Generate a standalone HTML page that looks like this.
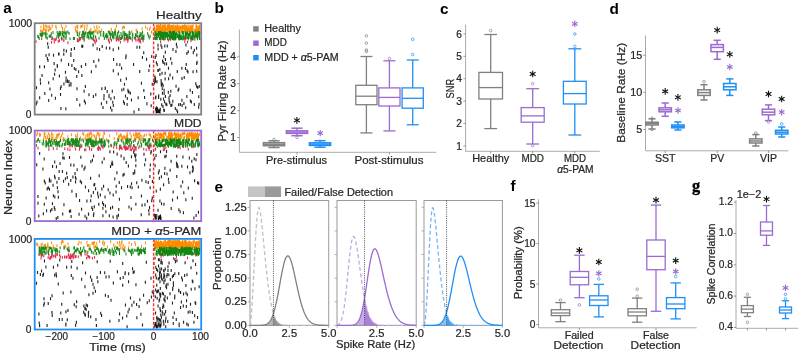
<!DOCTYPE html>
<html><head><meta charset="utf-8"><style>
html,body{margin:0;padding:0;background:#fff;width:800px;height:355px;overflow:hidden;}
svg{display:block;will-change:transform;}
text{font-family:"Liberation Sans", sans-serif;stroke:currentColor;}
</style></head><body>
<svg width="800" height="355" viewBox="0 0 800 355" font-family='"Liberation Sans", sans-serif'><text x="3.3" y="12.8" font-size="15.3" fill="#000" color="#000" stroke-width="0.0" font-weight="bold" text-anchor="start">a</text>
<text x="214.6" y="13.4" font-size="15.3" fill="#000" color="#000" stroke-width="0.0" font-weight="bold" text-anchor="start">b</text>
<text x="440.1" y="14.2" font-size="15.3" fill="#000" color="#000" stroke-width="0.0" font-weight="bold" text-anchor="start">c</text>
<text x="609.6" y="13.8" font-size="15.3" fill="#000" color="#000" stroke-width="0.0" font-weight="bold" text-anchor="start">d</text>
<text x="214.4" y="191.6" font-size="15.3" fill="#000" color="#000" stroke-width="0.0" font-weight="bold" text-anchor="start">e</text>
<text x="510.6" y="190.6" font-size="15.3" fill="#000" color="#000" stroke-width="0.0" font-weight="bold" text-anchor="start">f</text>
<text x="692" y="191" font-size="16.3" fill="#000" color="#000" stroke-width="0.35" font-weight="bold" text-anchor="start" font-family="Liberation Serif" style="font-family:'Liberation Serif', serif">g</text>
<path d="M87.12 24.25v3M98.98 29.78v3M95.29 29.26v3M77.75 24.83v3M40.48 29.42v3M55.77 25.09v3M60.83 31.1v3M47.96 25.48v3M96.18 30.3v3M82.78 24.3v3M43.79 25.61v3M49.68 27.66v3M42.01 29.52v3M56.32 26.41v3M149.52 27.96v3M42.81 30.02v3M52.31 24.53v3M114.53 29.35v3M42.98 30.47v3M111.42 28.8v3M131.82 29.89v3M84.48 27.77v3M76.4 29.97v3M77.38 30.33v3M65.94 25.03v3M96.67 25.18v3M64.34 27.72v3M99.76 30.3v3M136.73 29.61v3M136.17 28.42v3M94.8 29.61v3M80.71 25.16v3M81.56 25.11v3M75.58 28.5v3M46.5 24.95v3M116.48 24.54v3M48.63 28.94v3M115.32 27.87v3M86.8 27.53v3M41.84 29.61v3M42.96 30.37v3M43.91 24.5v3M99.13 25.46v3M45.77 24.4v3M84.82 24.79v3M43.54 27.31v3M43.42 24.3v3M151.8 30.45v3M61.42 24.55v3M122.3 26.41v3M79.87 31.01v3M45.59 28.4v3M145.57 25.52v3M124.38 26.07v3M111.22 27.71v3M76.74 29.83v3M90.86 27.71v3M94.23 25.86v3M44.26 27.81v3M62.36 30.32v3M42.15 30.69v3M151.39 30.65v3M91.01 30.44v3M40.93 25.54v3M147.35 27.28v3M97.03 27.06v3M62.51 26.89v3M75.29 26.34v3M46.81 28.87v3M142.07 27.14v3M123.44 25.61v3M77.57 26.25v3M49.22 24.97v3M89.95 29.62v3M45.81 30.77v3M101.57 28.67v3M50.84 26.7v3M150.3 25.9v3M76.79 25.07v3M97.12 27.42v3" stroke="#ff9215" stroke-width="1.05" fill="none"/>
<path d="M186.46 27.26v3M170.25 29.9v3M168.56 25.41v3M160.76 25.76v3M162.68 27.29v3M191.78 26.11v3M185.22 24.33v3M172.91 25.25v3M177.87 25.12v3M169.31 30v3M172.29 28.38v3M173.79 29.74v3M184.87 25.16v3M165.78 29.04v3M187 24.82v3M170.31 27.44v3M196.14 28.11v3M156.37 26.37v3M197.18 29.6v3M166.34 27.6v3M182.3 27.75v3M197.06 29.66v3M162.51 24.76v3M189.27 30.36v3M172.79 28.07v3M163.04 26.58v3M197.02 29.13v3M167.24 25.77v3M194.93 30.34v3M168.43 27.74v3M158.27 26.37v3M173.38 28.92v3M161.33 26.89v3M192.57 25.21v3M170.53 28.78v3M156.39 24.4v3M171.77 29.26v3M198.67 25.7v3M185.99 28.13v3M196.54 30.3v3M167.33 27.79v3M179.35 28.28v3M185.24 26.07v3M160.56 24.11v3M177.33 24.31v3M173.03 25.04v3M160.96 27.98v3M172.37 26.82v3M169.37 27.33v3M179.28 29.74v3M157.06 24.93v3M181.6 25.53v3M187.26 28.21v3M167.36 24.24v3M161 24.12v3M187 26.34v3M173.97 24.77v3M177.45 26.35v3M188.73 25.51v3M191.47 27.78v3M165.19 27.81v3M186.02 25.39v3M185.25 28.03v3M169.76 27.09v3M179.87 24.95v3M182.96 30v3M176.71 25.63v3M172.17 25.04v3M173.87 24.7v3M188.41 28.12v3M191.3 29.59v3M165.11 29.03v3M164.92 26.63v3M175.39 25.76v3M157.9 24.17v3M167.5 28.16v3M169.87 27.64v3M157.93 26.31v3M182.18 28.17v3M160.48 26.9v3M176.55 30v3M158.94 28.72v3M195.97 25.67v3M172.07 29.79v3M199.69 24.38v3M168.61 27.45v3M199.72 26.66v3M163.47 25.6v3M160.99 24.47v3M160.45 29.01v3M177.6 24.18v3M186.47 27.57v3M198.24 30.03v3M168.17 25v3M164.68 25.36v3M158.79 27.93v3M192.66 27.29v3M161.67 28.14v3M195.51 29.22v3M167.34 25.2v3M157.88 26.05v3M188.86 25.99v3M167.2 24.41v3M171.85 29.7v3M194.76 29.03v3M163.06 28.61v3M188.97 24.14v3M191.43 29.42v3M196.05 28.79v3M179.44 27.03v3M156.66 28.77v3M174.96 26.95v3M183.79 25.52v3M191.67 24.76v3M184.62 25.56v3M184.68 24.34v3M172.92 26.21v3M172.38 28.82v3M197.9 28.48v3M179.5 29.43v3M169.58 28.58v3M173.89 25.78v3M165.53 27.59v3M174.42 26.85v3M158.13 29.07v3M192.47 27.4v3M173.22 25.77v3M178.3 28.14v3M164.65 30.18v3M170.82 25.47v3M178.53 29.64v3M193.1 24.2v3M158.3 25.74v3M163.64 25.59v3M194.2 28.79v3M190.93 30.05v3M189.22 28.8v3M198.55 26.16v3M157.74 29.65v3M196.72 26.17v3M175.75 25.61v3M190.11 29.82v3M190.26 28.07v3M187.31 28.46v3M189.27 28.29v3M179.55 30.27v3M170.45 27.06v3M177.4 29.39v3M192.67 28.49v3M178.49 29.5v3M189.23 26.85v3M180.93 28.67v3M161.22 27.69v3M154.45 26.04v3M199.83 25.44v3M160.77 28.02v3M165.11 24.59v3M181.7 29.84v3M168.42 25.01v3M158.96 24.27v3M196.59 24.77v3M186.85 29.95v3M182.11 26.27v3M169.57 24.99v3M168.61 24.28v3M164.92 24.36v3M172.19 28.46v3M182.22 28.09v3M176.52 28.49v3M156.97 28.74v3M196.44 24.51v3M187.53 27.82v3M160.87 26.39v3M189.77 29.25v3M168.73 29.26v3M161.69 29.72v3M169.41 24.52v3M172.8 29.57v3M171.67 29.86v3M163.84 30.05v3M159.37 24.77v3M177.1 25.4v3M164.9 24.81v3M158.4 24.32v3M163.32 29.44v3M174.75 29.22v3M156.04 28.1v3M155.78 29.3v3M191.42 28.08v3M156.25 25.91v3M159.05 24.73v3M157.68 24.72v3M169.86 28.87v3M178.39 25.39v3M196.54 26.11v3M159.95 26.77v3M196.19 24.23v3M197.41 25.72v3M165.54 25.88v3M189.8 28.61v3M196.06 26.42v3M160.45 26.12v3M154.8 30.17v3M168.23 27.27v3M161.3 29.46v3M172.78 28v3M165.45 24.3v3M172.26 26.7v3M182.66 26.85v3M184.71 28.97v3M187.04 26.28v3M199.44 28.54v3M159.5 27.49v3M198.73 25.46v3M197.78 29.53v3M182.69 24.67v3M188.51 29.26v3M184.7 25.17v3M169.15 24.11v3M187.19 25.37v3M163.48 28.9v3M162.05 30.26v3M162.98 24.13v3M187.28 27.19v3M177.53 27.2v3M173.79 29.12v3M190.43 25.26v3M191.75 27.22v3M196.1 26.29v3M184.96 29.34v3M192.15 25.74v3M159.65 30.05v3M171.6 25.89v3M184.71 25.45v3M174.33 28.51v3M182.67 27.24v3M164.12 24.79v3M156.14 28.11v3M196.08 24.61v3M191.74 29.06v3M171.35 28.49v3M157.95 29.06v3M157.29 28.06v3M185.71 26.34v3M184.18 26.63v3M183.36 26.59v3M167.32 29.71v3M186.97 24.64v3M190.19 29.7v3M173.94 24.26v3M158.54 25.4v3M197.35 25.76v3M161.54 29.78v3M161.81 27.26v3M176.27 26.49v3M172.18 29.67v3M171.31 25.57v3M161.05 27v3M172.12 27.45v3M161.39 28.85v3M198.49 28.84v3M196.95 28.17v3M156.38 26.3v3M168.74 26.16v3M183.42 25.08v3M154.53 29.41v3M167.25 28.27v3M182.72 28.77v3M163.34 25.17v3M180.18 26.86v3M174.38 28.97v3M160.96 27.75v3M163.18 24.89v3M192.82 27.01v3M184.86 29.68v3M183.53 25.6v3M168.36 25.31v3M180.97 26v3M184.44 28.53v3M174.39 29.42v3M171.39 25.07v3M175.62 25.08v3M182.61 25.66v3M192.55 26.16v3M172.66 27.39v3M163.41 25.11v3M177.66 26.17v3M171.22 25.29v3M156.74 30.24v3M175.5 28.69v3M171.63 24.74v3M160.61 30.16v3M199.82 24.74v3M191.56 26.52v3M198.44 30.3v3M185.69 29.11v3M164.48 28.72v3M182.24 26.84v3M169.92 25.34v3M166.94 28.12v3M160.95 24.77v3" stroke="#ff8c00" stroke-width="1.05" fill="none"/>
<path d="M110.77 32.4v3M106.14 32.92v3M64.19 30.68v3M121.01 33.26v3M65.08 32.34v3M90.4 31.66v3M113.05 36.3v3M140.29 34.05v3M60.53 32.01v3M103.76 31.63v3M93.74 34.6v3M93.3 36.2v3M99.04 36.63v3M95.67 35.52v3M132.64 35.73v3M83.79 31.63v3M60.42 31.36v3M81.7 35.09v3M50.18 34.8v3M77.38 31.75v3M89.84 32.56v3M83.5 30.47v3M117.79 35.25v3M103.61 34.04v3M52.17 36.29v3M61.45 36.81v3M81.64 34.03v3M123 32.83v3M43.94 32.37v3M58.44 34.87v3M120.01 37.02v3M52.97 31.03v3M132.84 33.27v3M84.13 35.74v3M124.58 31.33v3M126.91 35.06v3M109.46 32.14v3M143.99 34.34v3M92.1 37.3v3M129.13 30.66v3M137.8 35.32v3M140.99 34.42v3M84.2 36.41v3M41.39 32.89v3M141.61 36.92v3M52.28 37.18v3M109.79 30.9v3M60.2 32.9v3M121.01 32.11v3M129.07 36.21v3M127.09 36.79v3M122.71 35.85v3M106.9 36.48v3M113.91 34.43v3M127.87 36.69v3M58.93 32.44v3M97.84 31.15v3M87.08 35.52v3M100.68 33.53v3M108.41 30.58v3M91.13 36.03v3M92.43 31.34v3M117.64 32.1v3M112.57 31.02v3M105.27 34.73v3M60.73 31.58v3M141.89 32.58v3M129.02 34.29v3M39.23 37.09v3M115.56 30.54v3M74.46 36.88v3M95.49 35.57v3M129.64 32.23v3M116.61 36.26v3M126.81 34.86v3M103.38 33.65v3M69.06 32.07v3M87.21 33.51v3M132.38 32.85v3M100.74 31.06v3M124.8 31.65v3M92.11 32.31v3M103.13 33.65v3M50.79 34.5v3M46.12 35.73v3M82.45 31.17v3M83.28 31.25v3M82.4 36.59v3M83.05 34.19v3M112.69 31.99v3M142.08 31.99v3M107.87 35.08v3M117.17 33.63v3M115.37 33.18v3M130.84 37.04v3M108.87 30.53v3M126.48 34.84v3M142.57 35.26v3M78.95 34.58v3M127.69 34.62v3M66.01 30.65v3M142.41 37.19v3M57.13 30.76v3M42.27 32.94v3M40.5 33.2v3M143.19 36.27v3M143.1 35.41v3M58.73 36.3v3M112.85 34.35v3M139.19 37.3v3M45.58 32.64v3M126.59 33.2v3M124.57 34.33v3M40.08 32.67v3M91.06 31.43v3M64.17 35.16v3M57.77 32.87v3M134.4 36.49v3M45.74 35.04v3M118.67 30.48v3M85.75 31.16v3M42.05 31.71v3M84.4 32.67v3M45.2 31.81v3M135.68 35.08v3M147.66 31.98v3M106.96 33.35v3M62.23 33.18v3M80.01 37.38v3M140.64 33.58v3M89.48 30.73v3M127.47 37.26v3M70.02 37.21v3M137.41 30.68v3M116.24 36.46v3M37.71 34.75v3M47.26 36.83v3M119.31 34.76v3M106.13 34.8v3M130.13 36.04v3M59.24 30.65v3M82.78 31.1v3M129.88 31.25v3M67.86 30.5v3M130.08 32.06v3M142.53 30.68v3M92.47 31.19v3M136.84 32.83v3M114.98 31.57v3M93.64 30.82v3M104.33 37.11v3M121.46 36.85v3M126.01 36.71v3M62.81 30.99v3M66.19 34.53v3M73.36 36.92v3M59.46 33.48v3M41.3 33.98v3M65.67 36.6v3M124.35 36.81v3M93.46 34.44v3M79.27 32.32v3M38.57 35.55v3M121.94 35.58v3M46.88 32.41v3M62.91 33.58v3M63.71 35.26v3M87.35 31.95v3M125.44 33.11v3M148.34 34.24v3M77.45 32.97v3M66.02 36.64v3M82.7 32.53v3M42.37 33.74v3M110.57 36.13v3M118.33 30.62v3M103.46 32.74v3M114.06 31.72v3M84.84 34.22v3M79.19 37.19v3M135.49 33.18v3M83.74 36.87v3M88.51 31.54v3M120.95 37.06v3M111.37 32.67v3M42.41 32.68v3M63.06 32.29v3M61.34 36.55v3M140.14 31.91v3M83.66 30.8v3M123.16 30.55v3M127.65 34.26v3M90.5 34.64v3M129.13 32.84v3M112.4 35v3M136.81 34.02v3M90.93 36.24v3M58.68 32.88v3M88.69 35.74v3M106.63 34.05v3M110.13 37.33v3M56.93 35.14v3M127.05 36.94v3M110.17 33.32v3M88.3 35.08v3M66.32 31.38v3M85.29 31.82v3M49.22 34.68v3M42.53 32.34v3M113.89 36.27v3M103.45 31.07v3M149.18 36.39v3M89.01 36.85v3M143.86 37.37v3M51.32 32.28v3M150.09 34.81v3M139.27 34.82v3M122.67 35.32v3M124.34 33.29v3" stroke="#1c8a1c" stroke-width="1.05" fill="none"/>
<path d="M181.55 36.12v3M154.71 34.23v3M199.53 36.88v3M183.76 36.3v3M188.32 37.58v3M158.41 31.83v3M169.17 32.2v3M192.62 36.84v3M163.72 35.37v3M195.92 33.55v3M172.85 33.49v3M189.11 36.05v3M199.92 37.12v3M177.99 34.79v3M172.16 31.78v3M192.82 35.7v3M193.28 32.51v3M188.9 34.69v3M161.43 35.28v3M167.51 37.37v3M174.47 31.3v3M199.82 32.09v3M180.73 37.09v3M192.07 34.78v3M159.44 32.87v3M185.86 33.2v3M199.56 33.98v3M173.59 37.4v3M185.04 35.49v3M163.88 35.7v3M173.2 37.07v3M156.33 36.5v3M190.32 32.97v3M166.73 31.99v3M172.53 36.9v3M158.14 34.52v3M179.63 35.96v3M170.8 35.06v3M173.15 32.41v3M196.12 30.94v3M179.06 31.12v3M172.33 33.85v3M157.23 36.87v3M155.76 32.72v3M192.05 34.21v3M161.21 31.48v3M197.62 32.44v3M158.41 31.19v3M186.9 31.68v3M198.16 31.13v3M182.68 31.3v3M175.27 36.35v3M162.47 34.71v3M191.6 35.69v3M170.54 30.83v3M165.48 32.64v3M192.29 35.17v3M172.58 30.9v3M155.42 33v3M158.39 30.99v3M189.09 32.99v3M183.75 36.7v3M173.66 30.98v3M179.66 34.11v3M174.22 34.95v3M190.93 36.24v3M173.48 31.99v3M174.51 36.67v3M160.23 36.21v3M192.54 31.39v3M161.66 34.97v3M187.29 36.08v3M160.23 37.52v3M173.74 33.52v3M197.36 37.19v3M181.58 36.74v3M199.54 30.98v3M172.83 32.95v3M160.12 35.25v3M185.31 32.93v3M166.69 33.62v3M167.44 35.63v3M184.86 36.48v3M164.96 31.87v3M155.27 30.93v3M194.96 32.23v3M177.98 34.4v3M186.08 36.52v3M189.38 33.23v3M175.58 33.26v3M183.07 33.14v3M197.12 35.43v3M191.34 36.69v3M163.53 31.84v3M170.54 37.47v3M165.57 34.71v3M159.22 32.36v3M177.19 35.01v3M182.15 36.33v3M188.92 34.05v3M169.11 31.02v3M180.14 35.2v3M169.13 35.23v3M166.01 34.54v3M185.61 35.6v3M163 34.6v3M195.49 33.26v3M181.08 34.4v3M198.82 32.66v3M156.09 32.52v3M196.53 34.6v3M158.33 31.48v3M172.35 36.3v3M192.19 37.44v3M175.2 31.82v3M169.92 35.08v3M185.79 33.53v3M182.94 37.46v3M185.25 37.17v3M178.48 35.05v3M163.03 31.63v3M192.03 34.49v3M162.36 32.19v3M190.97 36.09v3M192.62 32.56v3M180.26 34.92v3M172.96 35.82v3M165.25 36.94v3M173.36 36.72v3M160.48 36.62v3M181.19 36.1v3M162.94 34.39v3M189.08 33.19v3M169.81 35.63v3M192.3 33.8v3M180.8 36.65v3M170.78 32.25v3M162.24 37v3M181.34 36.93v3M170.95 33.45v3M167.6 32.24v3M156.48 36.17v3M199.08 30.98v3M188.48 35.29v3M169.83 30.9v3M163.06 36.29v3M154.78 37.01v3M183.79 35.38v3M197.05 33.18v3M165.86 32.35v3M174.72 33.36v3M155.55 36.97v3M171.97 33.35v3M192.97 35.27v3M162.08 36.65v3M192.27 31.01v3M169.3 30.94v3M195.08 35.62v3M197.65 32.44v3M165.96 33.21v3M164.85 33.02v3M183.05 33.69v3M186.57 32.7v3M197.49 36.78v3M177.18 34.19v3M179.37 37.47v3M190.63 36.18v3M168.49 34.05v3M193.19 37.15v3M164.35 36.03v3M170.81 37.29v3M193.4 31.73v3M173.8 32.84v3M169.99 31.4v3M170.19 30.83v3M169.46 36.73v3M185.19 32.5v3M175.78 32.97v3M177.97 34.95v3M178.78 37.31v3M161.44 32.24v3M182.17 31.15v3M172.66 36.12v3M180.17 36.59v3M171.21 35.8v3M160.64 31.11v3M178.59 36.06v3M193.07 33.79v3M167.83 33.76v3M161.1 31.75v3M179.7 37.17v3M170.82 35.46v3M169.3 36.27v3M162.12 31.83v3M159.52 37.01v3M165.96 31.71v3M166.59 32.86v3M179.08 34.22v3M187.94 33.19v3M180.25 35.91v3M185.38 33.96v3M160.52 33.5v3M177.53 33.62v3M197.63 35.17v3M198.19 35.32v3M175.38 33.5v3M179.22 33.08v3M163.14 36.89v3M158.65 34.78v3M171.03 32.17v3M156.55 35.07v3M159.75 30.9v3M179.86 31.72v3M194.17 34.85v3M196.24 34.71v3M162.06 35.55v3M169.97 35.75v3M185.43 31.13v3M160 36.88v3M193.08 31.24v3M158.94 31.55v3M191.02 37.31v3M192.28 37.4v3M161.01 34.37v3M174.46 30.82v3M176.65 32.32v3M166.55 34.47v3M185.87 35.11v3M181.23 34.51v3M163.95 37.56v3M155.03 34.4v3M169.09 36.51v3M173.39 37.31v3M190.32 31.33v3M174.86 37.4v3M172.93 36.6v3M160.63 37.41v3M164.04 32.32v3M187.56 31.29v3M171.95 35.58v3M192.17 30.9v3M164.73 32.63v3M175.61 37.37v3M187.55 32.14v3M185.47 31.13v3M176.02 36.17v3M155.96 37.27v3M189.55 32.62v3M189.71 33.01v3M183.34 31.08v3M183.33 33.89v3M160.84 32.72v3M157.33 33.05v3M177.61 33.59v3M170.38 37.55v3M172.91 35.87v3M156.53 32.63v3" stroke="#138513" stroke-width="1.05" fill="none"/>
<path d="M132.24 38.92v2.8M95.26 41.38v2.8M127.39 37.78v2.8M41.68 37.29v2.8M137.93 38.75v2.8M138.72 37.6v2.8M36.01 40.31v2.8M135.5 37.04v2.8M61.93 38.02v2.8M128.25 37.88v2.8M77.35 39.38v2.8M109.44 41.07v2.8M93.59 38.29v2.8M108.42 38.45v2.8M63.95 38.7v2.8M135.99 39.02v2.8M62.25 37.4v2.8M54.29 40.73v2.8M78.39 39.51v2.8M80.59 37.07v2.8M63.75 39.19v2.8M120.43 40.73v2.8M135.77 37.95v2.8M84.08 39v2.8M140.61 40.63v2.8M77.38 37.88v2.8M79.68 38.48v2.8M95.17 40.8v2.8M96.62 39.42v2.8M127.79 40.29v2.8M140.65 40.71v2.8M56.27 37.62v2.8M84.33 38.79v2.8M51.82 37.22v2.8M108.95 39.76v2.8M55.2 38.41v2.8M125.88 37.84v2.8M67.95 41.32v2.8M53.99 37.82v2.8M143.1 39.37v2.8M59.44 39.29v2.8M118.39 37.38v2.8M116.44 38.69v2.8M139.22 39.92v2.8M116.28 38.31v2.8M118.82 38.74v2.8M51.57 40.9v2.8M58.26 40v2.8M118.98 38.35v2.8M96.11 38.09v2.8M124.12 38.67v2.8M111.45 38.92v2.8M94.39 39.37v2.8M140.25 38.34v2.8M117.7 37.58v2.8M163.83 37.7v2.8M160.58 40.42v2.8M184.8 40.15v2.8M190.99 39.27v2.8M168.39 39.05v2.8M170.37 37.89v2.8M185.43 37.4v2.8M185.06 37.22v2.8M194.76 37.98v2.8M187.56 40.67v2.8" stroke="#e2284f" stroke-width="1.05" fill="none"/>
<path d="M118.31 72.46v3M85.45 101.58v3M143.71 51.32v3M54.59 72.73v3M124.38 102.03v3M128.93 90.55v3M119.85 63.37v3M66.01 79.73v3M60.94 106.88v3M113.55 57.99v3M149.59 64.61v3M54.1 62.11v3M112.32 89.68v3M59.02 52.39v3M57.37 64.99v3M82.74 44.85v3M76.96 87.17v3M60.46 87.08v3M97.08 47.19v3M93.07 43.42v3M127.1 103.03v3M142.44 55.91v3M68.58 62.92v3M104.04 93.93v3M59.39 74.38v3M125.5 94.53v3M141.42 81.79v3M70.89 81.88v3M47.65 42.29v3M58.58 52.61v3M70.91 53.96v3M76.77 75.1v3M74.36 67.1v3M48.7 99.11v3M130.31 91.7v3M89 93.29v3M49.08 53.24v3M81.79 44.66v3M40.52 81.82v3M84.1 89.84v3M84.37 99.46v3M44.8 91.97v3M121.59 66.79v3M113.24 48.36v3M36.48 86.3v3M133.55 62.95v3M66.39 49.49v3M63.76 52.67v3M67.46 79.21v3M73.74 59.02v3M102.23 45.08v3M65.8 107.14v3M68.98 80.18v3M151.2 104.33v3M120.69 78.78v3M63.87 48.7v3M48.24 45.87v3M128.29 90.18v3M60.52 93.07v3M46.06 53.92v3M134.05 110.47v3M85.38 84.9v3M48.69 81.18v3M49.99 87.61v3M61.3 58.86v3M126.34 77.29v3M131.49 98.38v3M44.43 65.27v3M47.35 56.9v3M126.09 54.15v3M71.33 47.95v3M124.49 82.68v3M57.23 63.92v3M144.59 96v3M39.66 96.14v3M53.18 77.18v3M55.4 96.76v3M125.78 56.14v3M143.84 89.12v3M118.59 46.78v3M36.23 102.44v3M40.3 78.15v3M74.41 46.92v3M106.33 46.48v3M137.04 45.64v3M78.57 70.34v3M111.87 108.64v3M103.91 97.15v3M93.38 95.01v3M93.81 59.94v3M116.85 62.92v3M42.06 74.08v3M127.92 88.72v3M55.12 68.59v3M110.56 106.33v3M95.76 93.36v3M105.17 87.02v3M109.71 46.85v3M127.29 97.08v3M123.51 100.17v3M63.92 82.39v3M101.44 102.23v3M103 106.03v3M139.71 45.63v3M113.34 69.21v3M109.04 95.14v3M75.89 68.12v3M146.55 57.82v3M114.31 96.36v3M113.3 104.04v3M85.68 63.05v3M70.96 83.5v3M146.88 102.27v3M91.38 70.3v3M70.85 52.17v3M99.55 47.88v3M81.86 74.07v3M39.7 65.17v3M151.72 55.01v3M139.71 70.07v3M98.71 58.73v3M61.14 85.1v3M79.74 103.52v3M81.37 64.95v3M53.51 53.65v3M76.93 98v3M138.82 107.9v3M71.91 63.98v3M138.15 96.29v3M106.69 100.8v3M148.9 68.94v3M36.96 100.58v3M48.01 59.02v3M101.87 87.15v3M121.86 88.45v3M150.79 92.44v3M123.79 87.76v3M51.66 93.73v3M65.46 70.66v3M95.92 64.85v3M166.55 62.44v3M168.32 90.72v3M185.7 106.35v3M191.28 46.28v3M184.25 75.94v3M185.94 43.43v3M194.31 102.94v3M159.83 68v3M168.59 77.25v3M161.34 83.72v3M175.32 107.06v3M176.4 42.68v3M197.11 60.77v3M162.96 104.99v3M177.56 110.44v3M162.32 82.53v3M199.19 85.11v3M165.42 95.06v3M155.58 79.7v3M172.98 47.97v3M197.72 85.94v3M176.88 108.86v3M170.83 103.95v3M169.18 99.21v3M177.01 45.51v3M178.68 103.33v3M163.56 97.43v3M157.21 63.27v3M178.14 88.81v3M195.79 82.37v3M198.7 95.35v3M170.82 89.64v3M166.82 103.16v3M176.05 84.66v3M196.72 69.77v3M185.48 66.95v3M168.97 96.46v3M175.95 49.89v3M196.62 84.79v3M177.26 70.12v3M161.69 103.24v3M156.4 61.28v3M178.83 87.44v3M193.07 70.36v3M157.89 68.99v3M187.11 69.25v3M191.38 100.44v3M159.92 72.96v3M154.94 78.6v3M186.23 63.1v3M181.86 66.81v3M199.11 102.79v3M194.33 48.79v3M181.89 98.86v3M192.45 90.89v3M196.81 53.55v3M162.44 91.65v3M188.25 50.26v3M172.81 99.77v3M190.41 99.6v3M172.64 76.39v3M169.76 101.37v3M186.87 52.01v3M187.95 70.49v3M196.68 61.95v3M164.12 88.84v3M196.56 46.77v3M154.54 81.45v3M165.14 71.79v3M164.16 92.05v3M190.21 88.68v3M193.3 51.26v3M164.53 100.32v3M165.29 50.75v3M167.29 44.49v3M198.63 105.83v3M171.77 61.86v3M183.92 102.09v3M171.93 103.5v3M186.87 94.97v3M181.98 77.02v3M182.11 104.03v3M168.5 66.81v3M180.35 102.96v3M157.99 43.79v3M165.14 77.58v3M170.7 57.14v3M170.07 73.51v3M155.46 76.63v3M164.36 109.05v3M164.82 44.41v3M161.11 78.99v3M164.74 62.32v3M156.69 106.24v3M165.4 57.95v3M157.03 80.27v3M157.74 108.82v3M161.22 81.7v3M156.07 54.04v3M160.82 97.66v3M155.59 107.49v3M163.26 60.92v3M158.32 68.9v3M156.94 107.49v3M165.82 102.51v3M161.82 45.94v3M162.26 87.2v3M162.61 59.42v3M162.01 71.7v3M163.76 108.49v3M163.72 55.25v3M163.12 84.31v3M158.73 94.15v3M158.1 47.43v3M155.91 95.38v3M155.59 96.25v3M155.28 55.96v3M170.09 93.88v3M158.56 95.97v3M161.02 43.77v3M154.83 75.49v3M153.56 79.09v3M152.28 82.69v3M105.3 86.47v3M107.17 90.07v3M109.04 93.67v3M110.91 97.27v3M112.78 100.87v3M66.12 76.43v3M67.68 80.03v3M69.25 83.63v3" stroke="#262626" stroke-width="1.15" fill="none"/>
<path d="M159.04 109.52v3.2M157.13 107.2v3.2M158.88 109.8v3.2M156.66 110.1v3.2M156.78 110.19v3.2M157.52 107.39v3.2M156.63 108.21v3.2M159.98 110.52v3.2M159.7 108.95v3.2M156.11 108.46v3.2M156.72 109.4v3.2M160.23 107.78v3.2M156.27 109.95v3.2M157.71 109.81v3.2" stroke="#111" stroke-width="1.15" fill="none"/>
<line x1="153.6" y1="23.2" x2="153.6" y2="114.6" stroke="#ff2e2e" stroke-width="1.4" stroke-dasharray="3,1.6"/>
<rect x="34.7" y="23.2" width="166.5" height="91.4" fill="none" stroke="#808080" stroke-width="1.8"/>
<text x="201.6" y="18.9" font-size="11.2" fill="#262626" color="#262626" stroke-width="0.22" font-weight="normal" text-anchor="end" textLength="45.5" lengthAdjust="spacingAndGlyphs">Healthy</text>
<text x="32.2" y="26.8" font-size="10.2" fill="#262626" color="#262626" stroke-width="0.22" font-weight="normal" text-anchor="end" textLength="23.5" lengthAdjust="spacingAndGlyphs">1000</text>
<text x="31.4" y="118.1" font-size="10.2" fill="#262626" color="#262626" stroke-width="0.22" font-weight="normal" text-anchor="end">0</text>
<path d="M99.2 135.55v3M98.25 133.08v3M45.07 132.57v3M52.83 136.79v3M87.25 138.37v3M102.99 136.56v3M136.46 132.17v3M94.66 134.59v3M90.7 137.32v3M106.61 138.37v3M141.82 137.92v3M97.37 132v3M95.16 136.85v3M83.79 132.74v3M59.26 132.48v3M104.52 132.02v3M61.53 134.18v3M144.47 133.63v3M60.26 136.21v3M49.25 136.51v3M124.54 135.64v3M47.17 134.67v3M136.66 135.05v3M134.76 135.27v3M80.44 136.33v3M44.32 134.12v3M143.18 135.21v3M76.13 135.46v3M131.19 134.6v3M119 135.7v3M135.46 133.3v3M89.35 134.21v3M117.47 137.6v3M134.2 138.29v3M45.47 136.07v3M85.9 134.43v3M37.74 138.29v3M36.71 133.33v3M85.11 137.34v3M123.07 136.48v3M62.6 131.91v3M139 136.34v3M133.6 133.01v3M39.47 133.83v3M135.09 138.03v3M57.24 134.66v3M57.45 133.91v3M131.14 136.9v3M48.38 138.29v3M142.92 137.82v3M123.74 134.81v3M93.15 133.8v3M77.19 138.4v3M143.37 138.45v3M98.14 132.13v3M128.63 138.39v3M91.62 135.35v3M150.55 134.35v3M77.39 132.45v3M56.6 136.81v3M75.57 134.13v3M96.45 136.53v3M109.6 134.2v3M126.42 135.01v3M120 134.09v3M46.28 138.58v3M47.36 136.04v3M64.9 137.74v3M116.74 132.3v3M118.65 135.12v3M122.32 137.78v3M137.82 135.87v3M126.67 136.09v3M121.45 134.83v3M141.27 134.72v3M137.04 133.86v3M67.81 135.35v3M56.66 133.95v3M127.75 136.88v3M89.23 133.73v3M89.66 137.26v3M125.45 136.42v3M121.74 136.3v3M114.17 137.05v3M121.14 134.3v3M130 132.33v3M56.98 135.97v3M87.31 133.57v3M139.77 135.41v3M99.84 132.95v3M52.84 133.26v3M77.37 135.7v3M51.71 136.96v3M49.31 134.12v3M90.67 137.54v3M123.03 136.11v3M39.41 132.66v3M98.29 131.96v3M137.67 134.73v3M124.1 136.23v3M63.3 136.94v3M103.9 131.82v3M83.04 137.87v3M87.84 135.73v3M51.09 134.43v3M119.43 135.48v3M44.21 131.71v3M55.32 137.17v3M96.16 137.44v3M127.14 132.11v3M57.87 133.27v3M149.18 132.73v3M137.72 132.74v3M127.52 137.89v3M103.15 137.08v3M87.88 133.18v3M90.4 131.67v3M91.33 132.09v3M139.72 132.13v3M120.84 132.91v3M52.91 134.84v3M51.62 132.02v3M52.83 133.98v3M146.25 133.57v3M135.95 136.81v3M48.73 137.71v3M140.08 133.86v3M53.19 138.08v3M71.43 133.37v3M127.49 133.39v3M82.81 131.95v3M37.37 131.87v3M63.1 138.41v3M138.58 132.44v3M60.67 137.66v3M58.35 133.83v3M127.52 135.06v3M89.18 132.5v3M151 135.8v3M120.9 138.53v3M49.21 137.22v3M43.87 136.83v3M138.9 137.46v3M96.4 134.5v3M40.5 133.6v3M135.74 131.62v3M150.12 133.71v3M48.31 132.01v3M103.23 134.85v3" stroke="#ff9215" stroke-width="1.05" fill="none"/>
<path d="M188.64 132.63v3M178.2 132.3v3M155.17 133.4v3M197.5 132.03v3M182.43 132.51v3M163.73 131.75v3M156.28 133.57v3M191.07 135.87v3M192.11 132.56v3M198.12 134.42v3M168.52 132.17v3M195.18 132.74v3M180.62 133.75v3M176.08 137.43v3M165.58 132.75v3M193.4 132.26v3M174.72 136.9v3M176.13 133.55v3M155.4 134.08v3M159.05 134.31v3M161.98 134.54v3M164.52 131.65v3M194.9 135.74v3M178.8 137.17v3M187.45 132.54v3M156.21 137.12v3M197.79 136.5v3M196.26 135.44v3M195.88 135.63v3M191.69 134.31v3M193.27 135.42v3M169.94 137.2v3M161 136.43v3M187.04 134.95v3M155.85 137.07v3M184.97 131.59v3M186.33 134.27v3M191.97 131.64v3M192.39 135.49v3M186.48 135.66v3M170.93 134.72v3M175.29 132.43v3M158.58 131.8v3M197.25 136.45v3M172.03 134.75v3M194.15 134.63v3M167.57 135.84v3M187.05 132.49v3M160.31 135.57v3M196.31 134.65v3M178.44 137.31v3M166.93 135.92v3M194.46 137.41v3M168.69 136.82v3M193.1 133.78v3M184.48 135.95v3M159.95 132.69v3M161.27 133.9v3M163.36 135.67v3M188.33 133.6v3M178.18 134.52v3M172.39 135.15v3M174.23 137.67v3M188.85 132.52v3M157.27 137.14v3M199.57 132.7v3M188.82 137.76v3M165.95 132.83v3M171.76 135.68v3M160.49 135.37v3M169.74 131.53v3M170.14 135.15v3M193.06 133.56v3M160.74 135.55v3M188.34 135.03v3M184.15 136.55v3M197.29 133.62v3M175.84 135.11v3M188.55 134.94v3M187.66 137.5v3M196.45 136.91v3M187.31 137.73v3M160.36 134.6v3M183.59 136.72v3M192.03 131.79v3M168.53 134.2v3M195.2 132.02v3M195.42 134.11v3M168.61 133.35v3M180.54 134.7v3M180.64 135.94v3M191.92 131.53v3M194.55 135.21v3M163.88 132.34v3M195.5 133.87v3M184.26 137.02v3M175.45 135.32v3M155.48 134.24v3M159.41 137.06v3M178.03 136.6v3M170.24 132.01v3M181.93 134.33v3M198.51 133.82v3M171.75 131.72v3M196.8 136.76v3M169.48 133.39v3M177.91 131.91v3M176.8 133.13v3M154.89 136.43v3M181.98 132.8v3M187.75 134.7v3M189.03 134.66v3M170.89 134.82v3M163.86 136.34v3M178.74 135.86v3M164.21 135.58v3M161.44 133.25v3M186.78 135.55v3M191.04 133.5v3M181.86 135.81v3M175.97 135.89v3M156.87 137.54v3M191 131.79v3M161.94 136.77v3M178.96 136.61v3M194.79 133.36v3M177.03 135.29v3M187.3 136.95v3M197.44 136.14v3M186.8 137.41v3M189.51 133.72v3M154.48 136.86v3M194.01 136.9v3M179.91 133.14v3M168.99 134.69v3M176.66 134.3v3M169.72 131.66v3M165.58 132.02v3M192.52 136.48v3M168.54 137.07v3M174.72 132.86v3M172.2 135.28v3M175.03 137.02v3M189.45 132.01v3M175.97 133.33v3M178.91 136.79v3M170.73 135.34v3M191.35 137.53v3M198.49 135.56v3M170.55 136.27v3M170.45 135.56v3M172.27 136.78v3M194.62 133.14v3M160.98 132.53v3M170.56 137.21v3M196.36 132.91v3M174.12 136.9v3M173.06 132.91v3M190.22 133.14v3M171.54 131.88v3M169.91 132.51v3M179.45 137.78v3M162.72 133.4v3M168.34 137.76v3M174.5 131.9v3M175.28 133.91v3M170.35 135.44v3M196.78 137.6v3M176.15 132.84v3M179.8 134.12v3M155.16 134.46v3M157.46 133.47v3M183.05 131.88v3M189.08 133.92v3M194.47 135.61v3M178.9 134.53v3M197.55 134.84v3M155.8 132.73v3M159.96 133.13v3M195.76 134.78v3M184.17 132.25v3M188.47 133.51v3M163.2 137.1v3M193.55 137.26v3M158.11 137.16v3" stroke="#ff8c00" stroke-width="1.05" fill="none"/>
<path d="M117.07 141.09v3M145.04 138.72v3M88.02 139.9v3M70.94 142.79v3M64.4 142.9v3M43.41 139.23v3M123.99 142.3v3M55.6 142.4v3M113.98 142.4v3M144.04 137.95v3M115.05 140.89v3M36.11 140.07v3M68.83 141.98v3M45.93 140.16v3M71.51 138.7v3M75.55 142.49v3M72.05 139.81v3M141.65 143.33v3M75.82 139.94v3M96.07 141.62v3M93.38 143.46v3M81.94 138.61v3M85.43 142.92v3M140.04 138.28v3M85.83 144.35v3M38.48 137.98v3M145.31 142.87v3M108.64 140.38v3M54.7 139.06v3M100.23 140.56v3M149.04 141.31v3M95.17 140.7v3M48.84 138.66v3M101.31 141.46v3M128.01 139.9v3M120.79 144.57v3M94.26 140.48v3M103.12 140.85v3M100.8 139.4v3M61.84 144.58v3M133.31 140.05v3M56.74 142.32v3M59.03 143.63v3M49.61 140.55v3M75.44 143.09v3M83.63 139.75v3M90.75 138.57v3M75.58 138.1v3M58.81 140.94v3M147.37 143.92v3M121.66 139.22v3M131.45 140.88v3M69.15 143.14v3M143.46 139.73v3M126.67 138.87v3M74.47 141.43v3M86.47 140.78v3M46.57 144.37v3M36.32 144.08v3M95.91 139.47v3M69.47 141.73v3M77.24 140.71v3M88.73 138.04v3M69.42 140.91v3M104.12 144.21v3M143.26 139.92v3M57.88 141.9v3M65.42 142.77v3M101.11 138.24v3M72.07 144.27v3M91.16 138.56v3M100.34 139.91v3M150.82 142.81v3M149.83 137.94v3M79.24 140.43v3M63.91 138.69v3M125.85 141.11v3M148.87 137.91v3M68.22 138.86v3M87.01 139.36v3M99.65 138.37v3M86.16 138.43v3M93.03 139.16v3M92.66 141.42v3M76.55 138.76v3M80.23 143.55v3M73.05 140.72v3M127.63 139.56v3M104.55 139.49v3M111.07 143.68v3M101.93 138.13v3M57.7 143v3M152.48 138.48v3M104.52 144.41v3M46.41 140.66v3M67.91 141.98v3M57.54 143.84v3M68.08 138.5v3M118.02 138.25v3M96.28 142.65v3M54.04 141.91v3M78.29 142.85v3M43.48 139.74v3M74.83 141.28v3M118.67 139.11v3M101.73 140.86v3M72.33 139.77v3M86.33 141.9v3M65.75 139.89v3M90.59 139.72v3M145.58 142.3v3M86.15 138.4v3M129.77 143.41v3M48.49 141.27v3M127.71 139.4v3M145.63 138.6v3M104.45 141.36v3M69.19 141.33v3M87.16 142.84v3M50.79 140.42v3M77 140.69v3M91.62 144.05v3M74.59 139.72v3M139.85 144.67v3M76.45 144.05v3M48.9 144.73v3M59.85 144.4v3M95.84 139.6v3M149.11 143.5v3M90.6 142.08v3M92.88 139.23v3M108.79 144.78v3M88.18 142.33v3M46.07 143.47v3M76.21 141.71v3M73.48 138.36v3M51.9 143.84v3M135.14 139.03v3M75.54 139.61v3M69.94 142.11v3M37.7 139.16v3M50.62 141.04v3M64.32 142.8v3M79.92 138.47v3M125.67 142.42v3M67.31 138.53v3M91.82 141.13v3M42.25 142.35v3M74.8 142.61v3M90.69 138.1v3M54.55 139.14v3M150.14 144.52v3M123.19 140.54v3M138.36 140.77v3M73.44 140.42v3M43.77 142.67v3M57.35 142.98v3M67.06 142.35v3M96.13 140.62v3M55.65 141.79v3M93.52 141.41v3M125.72 139.12v3M92.85 144.45v3M101.64 144.55v3M103.18 143.24v3M119.53 144.75v3M78.62 141.06v3M110.79 143.67v3M90.15 139.48v3M147.42 143v3M92.4 142.8v3M87.99 144.37v3M78.66 143.63v3M75.01 143.96v3M127.79 139.67v3M95.15 143.31v3M114.75 141.13v3M108.82 139.99v3M99.1 140.38v3M148.99 143.39v3M51.79 143.7v3M55.93 143.71v3M72.54 142.49v3M51.54 138.99v3M87.79 138.89v3M45.83 141.78v3M107.87 139.28v3M102.59 140.16v3M77.53 138.52v3M73.22 138.88v3M146.3 142.82v3M144.92 139.37v3M48.33 143.74v3M39.77 140.1v3M149.34 143.74v3M67.13 139.92v3M56.58 139.67v3M96.67 140.56v3M72.05 137.88v3M98.07 140.85v3M59.59 140.46v3M75.44 137.89v3M50.52 143.83v3M105.1 140.43v3M79.51 137.8v3M45.9 144.52v3M77.64 139.4v3M87.27 139.57v3M68.69 137.97v3M130.51 138.5v3M62.47 142.77v3M86.16 141.87v3M52.65 141.33v3M90.05 139.52v3M89.11 139.81v3M74.93 144.59v3M129.21 140.41v3M79.46 144.73v3M77.86 144.01v3M89.76 138.67v3M104.65 143.74v3M127.69 137.95v3M146.28 142.78v3M131.05 143.47v3M91.27 142.67v3M147 141.65v3M58.99 143.49v3M77.13 138.88v3M46.91 141.58v3M148.02 139.66v3M78.14 140.59v3M70.9 139.14v3M137.7 142.76v3M91.13 141.81v3M50.54 143.25v3M69.98 142.2v3M127.67 141.99v3M131.03 144.25v3M88.07 143.49v3M86.87 141.77v3M54.12 140.08v3M92.65 144.29v3M49.91 140.4v3M148.84 138.51v3M68.84 140.13v3M87.21 142.74v3M133.56 144.32v3M69.9 142.32v3M47.79 142.44v3M81.79 144.36v3M105.28 143.25v3M55.97 140.92v3M46.64 141.03v3M116.57 143.12v3M125.91 140.02v3M129.41 138.57v3M73.48 142.14v3M101.11 143.46v3M101.51 139.54v3M75.83 142.59v3M76.75 144.05v3M72.48 138.69v3M49.26 138.75v3M88.68 141.25v3M92.2 140.14v3M94.06 144.45v3M124.33 144.78v3M57.89 140.92v3M114.88 143.35v3M97.85 142.22v3M67.94 139.01v3M141.59 144.6v3M60.53 139.02v3M71.44 138.33v3M126.5 140.97v3M49.72 137.92v3M140.84 141.17v3M93.78 140.68v3M134.29 144.48v3" stroke="#1c8a1c" stroke-width="1.05" fill="none"/>
<path d="M193.5 143.97v3M193.56 144.14v3M176.88 140.96v3M177.74 139.13v3M197.81 143.44v3M173.07 139.39v3M177.19 143.49v3M159.13 140.95v3M177.94 144.16v3M155.53 141.62v3M175.82 144.53v3M193.05 140.09v3M163.68 138.78v3M167.01 138.98v3M192.07 144.51v3M165.69 140.67v3M171.68 138.87v3M191.3 143.99v3M180.24 141.84v3M180.21 139.45v3M155.73 141.72v3M179.58 139.13v3M198.57 138.83v3M176.2 139.77v3M178.72 139.75v3M197.58 138.52v3M172.4 139.43v3M186.37 138.83v3M165.54 141.45v3M161.91 144.11v3M199.06 142.66v3M182.42 144.15v3M176.9 139.63v3M192.9 140.97v3M167.57 143.3v3M183.32 142.5v3M156.79 139.17v3M170.24 142.83v3M157.33 141.35v3M167.52 141.4v3M176.61 138.49v3M193.31 141.98v3M188.64 139.62v3M192.57 140.47v3M165.02 144.35v3M164.85 143.18v3M188.02 141.2v3M183.3 139v3M199.31 143.28v3M168.19 140.47v3M168.7 141.74v3M185.61 144.62v3M180.25 142.14v3M182.33 139.21v3M171.36 142.85v3M172.09 138.52v3M159.96 140.03v3M189.34 138.25v3M180.74 142.13v3M191.17 141.06v3M174.59 138.56v3M193.11 140.44v3M161.78 142.47v3M177 138.66v3M174.83 139.83v3M156.8 141.73v3M182.94 141.72v3M198.64 139.2v3M186.97 139.98v3M178.65 140.22v3M160.2 142.34v3M179.33 141.2v3M167.71 140.4v3M162.52 138.98v3M183.52 141.57v3M171.72 139.39v3M197.24 139.02v3M180.25 138.45v3M166.09 142.04v3M183.31 139.23v3M166.35 138.55v3M199.71 143.03v3M198.37 144.12v3M176.63 142.78v3M198.15 144.39v3M168.43 144.38v3M167.52 139.8v3M175.75 142.75v3M195.71 141.25v3M176.2 143.81v3M160.74 144.15v3M183.6 144.34v3M173.25 141.22v3M155.54 138.99v3M191.77 139.47v3M176.27 143.69v3M187.62 143.57v3M185.52 140.68v3M172.68 140.58v3M173.43 143.76v3M197.5 143v3M171.07 143.54v3M191.97 144.42v3M178.3 144.78v3M173.26 141.09v3M162.01 139.67v3M165.34 143.13v3M177.53 141.23v3M169.43 142.14v3M154.85 143.56v3M177.7 144.57v3M191.48 143.4v3M176.62 139.09v3M194.95 142.93v3M173.97 138.25v3M156.34 140.98v3M178.15 141.62v3M171.74 143.08v3M191.79 145v3M191.63 142.2v3M160.07 141.19v3M171.19 139.68v3M198.13 144.27v3M165.02 138.81v3M166.58 142.36v3M175.79 143.95v3M160.52 143.15v3M191.42 141.72v3M157.37 144.77v3M179.92 143.14v3M178.68 138.64v3M158.97 144.13v3M170.49 138.33v3M161.84 139.9v3M187.18 144.57v3M170.52 139.39v3M181.14 141.6v3M176.18 143.93v3M188.7 141.25v3M185.98 140.39v3M183.92 139.6v3M174.25 144.07v3M181.67 141.84v3M196.14 139.21v3M194.93 144.87v3M172.42 140.02v3M160.64 144.4v3M190.96 142.85v3M192.98 141.24v3M187.63 143.14v3M176.93 140.19v3M177.19 142.97v3M162.29 139.65v3M159.72 142.34v3M161.14 142.19v3M184.04 141.22v3M175.15 144.16v3M189.28 143.13v3M196.38 139.38v3M170.17 143.77v3M171.55 140.27v3M195.36 144v3M179.24 144.87v3M185.7 139.25v3M170.01 140.68v3M173.88 138.53v3M171.88 143.82v3M171.09 142.58v3M191.84 139.4v3M168.26 144.43v3M176.09 140.47v3M162.63 139.61v3M182.78 144.87v3M194.85 143.82v3M171.56 139.07v3M163.17 144.41v3M173.79 144.99v3M162.96 143.77v3M156.28 141.69v3M183.98 142.26v3M177.8 139.13v3M197.89 142.58v3M177.97 144.9v3M175.84 143.44v3M169.81 140v3M183.57 142.78v3M156.5 143.28v3M197.32 139.47v3M168.44 144.74v3M188.57 138.82v3M158.96 138.94v3M159.07 140.22v3M187.38 141.6v3M185.73 142.27v3M175.51 144.9v3M167.94 143.81v3M158.52 143.55v3M179.67 142.8v3M198.83 142.94v3M198.03 138.57v3M189.66 143.27v3M155.12 142.05v3M174.4 142.68v3M191.55 142.09v3M169.98 138.36v3M166.75 142.05v3M163.85 144.09v3M165.49 138.73v3M185.9 142.48v3M159.49 144.08v3M186.2 139.51v3M199.38 141.52v3M181.05 141.9v3" stroke="#138513" stroke-width="1.05" fill="none"/>
<path d="M126.27 146.46v2.8M151.15 144.79v2.8M149.71 146.16v2.8M98.51 145.42v2.8M127.18 147.28v2.8M64.81 147.25v2.8M121.01 146.36v2.8M99.85 146.77v2.8M48.84 148.12v2.8M69.91 148.5v2.8M124.78 146.95v2.8M99.86 146.73v2.8M38.05 146.77v2.8M135.05 146.54v2.8M130.24 148.13v2.8M134.32 148.74v2.8M148.57 145.36v2.8M135.49 146.3v2.8M116.7 146.22v2.8M135.73 146.64v2.8M135.82 147.53v2.8M132.53 146.79v2.8M146.19 148.45v2.8M97.67 147.33v2.8M129.86 145.32v2.8M98.42 145.45v2.8M102.71 145.46v2.8M148.17 145.9v2.8M136.18 146.17v2.8M125.96 145.66v2.8M133.95 144.47v2.8M138.72 146.24v2.8M131.5 148.45v2.8M67.81 147.87v2.8M124.77 146.11v2.8M89.66 147.6v2.8M75.55 147.75v2.8M128.16 146.93v2.8M126.79 147.18v2.8M81.05 145.15v2.8M125.57 146.4v2.8M149.02 148.17v2.8M89.46 146.17v2.8M69.91 144.83v2.8M85.84 148.57v2.8M128.09 145.82v2.8M56.98 147.2v2.8M98.74 146.63v2.8M72.4 144.52v2.8M119.33 147.58v2.8M133.72 148.5v2.8M125.71 148.22v2.8M123.9 145.42v2.8M79.94 146.02v2.8M53.31 147.09v2.8M136.03 147.05v2.8M103.14 145.85v2.8M130.3 146.96v2.8M135.97 148.43v2.8M120.05 146.1v2.8M143.76 147.71v2.8M84.54 148.56v2.8M98.38 148.29v2.8M113.67 145.85v2.8M122.09 147.56v2.8M100.31 147.99v2.8M128.37 145.03v2.8M79.42 147.88v2.8M111.59 144.5v2.8M91.62 148.13v2.8M165.89 146.38v2.8M164.01 145.44v2.8M183.62 145.19v2.8M155.6 147.55v2.8M155.24 147.96v2.8M163.34 148.52v2.8M177.95 145.9v2.8M164.45 148.01v2.8M180.07 146.49v2.8M188.24 147.83v2.8M193.08 145.5v2.8" stroke="#e2284f" stroke-width="1.05" fill="none"/>
<path d="M108.17 188.35v3M131.48 155.33v3M150.2 186.22v3M135.92 153.48v3M129.03 205.42v3M76 177.16v3M134.71 169.57v3M58.37 195.65v3M132.09 186.37v3M50.84 179.49v3M105.04 195.46v3M119.44 197.83v3M150.79 151.44v3M134.66 171.2v3M42.93 167.38v3M64.1 156.75v3M88.55 212.51v3M110.52 165.09v3M62.77 156.27v3M104.14 157.23v3M86.65 216.76v3M144.96 203.28v3M90.86 160.23v3M80.3 179.84v3M98.37 195.47v3M47.19 187.48v3M93.55 154.55v3M63.96 203.32v3M135.43 155.27v3M114.8 177.43v3M149.88 175.08v3M51.87 207.98v3M93.8 212.35v3M69.49 156.03v3M105.92 210.17v3M54.54 174.74v3M105.46 204.6v3M63.54 179.69v3M131.29 207.54v3M94.67 182.98v3M98.79 202.79v3M52.6 164.98v3M133.25 171.95v3M44.19 157.55v3M56.94 180.81v3M148.82 208.96v3M90.59 176.82v3M103.55 184.79v3M57.83 216.03v3M145.55 158.13v3M124.09 172.83v3M73.87 163.74v3M111.69 162.61v3M144.66 163.23v3M141.24 213.15v3M147.44 199.84v3M134.56 153.51v3M113.63 150.53v3M118.44 213.79v3M38.76 214.5v3M149.56 206.01v3M122.97 173.65v3M133.75 150.72v3M109.98 191.62v3M88.59 189.28v3M54.3 205.88v3M119.25 180.95v3M102.55 201.32v3M136.75 181.21v3M69.44 209.77v3M38 201.63v3M44.37 179.42v3M127.58 184.99v3M135.89 202.86v3M91.87 206.12v3M46.55 209.26v3M67.28 175.89v3M138.31 185.47v3M109.29 214.13v3M82.08 164.56v3M115.99 190.61v3M116.23 184.64v3M116.9 214.86v3M102.18 160.76v3M97.69 192.4v3M109.93 150.14v3M56.46 165.32v3M56.23 216.95v3M81.58 207.66v3M76.25 194.51v3M94.29 205.3v3M59.15 170.12v3M36.73 163.27v3M150.36 163.51v3M88.47 212.8v3M63.01 152.37v3M75.44 175.78v3M62.7 212.52v3M80.82 155.76v3M48.24 186.14v3M92.65 207.91v3M46.12 196.43v3M39.64 152.08v3M50.51 209.38v3M97.66 191.5v3M85.01 165.74v3M76.21 192.94v3M75.52 180.46v3M152.45 179.88v3M148.21 181.08v3M135.81 164.31v3M62.44 169.96v3M141.48 194.46v3M103.57 202.95v3M100.39 193.45v3M121.53 186.2v3M121.13 154.56v3M151.73 199.18v3M110.61 206.66v3M54.69 160.42v3M99.18 174.28v3M131.51 182.25v3M130.94 195.88v3M135.83 158.7v3M66.62 171.66v3M53.05 183.7v3M71.92 189.73v3M113.23 193.5v3M45.26 181.44v3M112.56 205.8v3M92.4 158.76v3M145.94 180.21v3M151.25 149.95v3M57.4 186.13v3M58.04 190.26v3M130.3 185.41v3M112.68 162.81v3M102.88 206.66v3M70.6 209.43v3M49.38 179.59v3M49.45 187.64v3M149.04 212.58v3M150.01 168.38v3M58.92 176.95v3M49.43 177.71v3M65.44 177.34v3M85.47 185.39v3M54.9 207.91v3M53.41 194.28v3M52.48 202.25v3M117.09 216.57v3M93.5 213.91v3M60.04 162.08v3M81.5 181.26v3M116.93 171.15v3M113.1 215.58v3M43.34 212.32v3M37.98 195.1v3M102.95 214.32v3M123.99 156.69v3M79.07 212.73v3M85.04 214.64v3M79.56 198.9v3M101.86 187.43v3M152.3 196.39v3M54.84 195.6v3M142.07 203.67v3M144 152.63v3M70.81 163.41v3M55.09 176.48v3M141.92 178.67v3M90.67 199.26v3M44.31 202.67v3M84.09 167.71v3M71.1 215v3M86.91 199.42v3M118.78 207.9v3M117.13 152.51v3M93.96 183.38v3M112.17 160.66v3M192.43 169.76v3M176.72 154.66v3M194.61 179.26v3M198.65 181.87v3M167.03 172.44v3M182.62 180.56v3M182.95 155.41v3M171.12 159.74v3M189.92 171.25v3M173.19 190.43v3M191.81 159.67v3M198.45 210.72v3M164.65 171.93v3M160.36 187.69v3M181.03 184.66v3M156.26 189.61v3M192.53 165.52v3M185.87 198.22v3M160.92 217.09v3M180.15 210.35v3M168.46 177.71v3M176.74 174.97v3M177.42 163.23v3M177.95 165.3v3M176.49 161.63v3M188.27 186.56v3M197.6 181.27v3M193.88 216.46v3M177.45 196.18v3M166.06 154.38v3M189.33 156.38v3M176.84 164.75v3M157.98 208.78v3M171.2 207.11v3M196 158.13v3M192.26 196.73v3M163.59 183.17v3M181.86 164.75v3M166.54 150.01v3M172.53 198.38v3M187.53 165.43v3M193.08 168.79v3M159.25 169.27v3M193.28 166.49v3M183.43 211.17v3M183.79 191.19v3M196.1 213.98v3M160.5 150.24v3M163.95 202.73v3M170.12 168.86v3M196.84 153.08v3M168.87 180.91v3M164.9 166.77v3M161.52 202.22v3M194.23 157.26v3M155.11 164.22v3M178.87 208.33v3M158.49 171.46v3M161.38 175.17v3M156.76 214.03v3M159.32 176.81v3M156.05 154v3M164.84 155.21v3M159.92 199.57v3M154.75 156.66v3M77.16 168.29v3M75.03 171.89v3M72.91 175.49v3M70.78 179.09v3M68.65 182.69v3M95.57 187.36v3M93.39 190.96v3M91.21 194.56v3M124.02 157.35v3M126.22 160.95v3M128.43 164.55v3" stroke="#262626" stroke-width="1.15" fill="none"/>
<path d="M159.58 216.02v3.2M155.32 213.97v3.2M154.91 214.52v3.2M158.42 216.99v3.2M160.41 216.63v3.2M155.35 216.37v3.2M159.17 215.25v3.2M160.57 215.7v3.2M155.31 214.36v3.2M155.38 215.74v3.2M158.34 216.6v3.2M154.66 213.63v3.2M160.44 214.52v3.2M156.19 216.63v3.2" stroke="#111" stroke-width="1.15" fill="none"/>
<line x1="153.6" y1="130.6" x2="153.6" y2="221.1" stroke="#ff2e2e" stroke-width="1.4" stroke-dasharray="3,1.6"/>
<rect x="34.7" y="130.6" width="166.5" height="90.5" fill="none" stroke="#9b6bd0" stroke-width="1.8"/>
<text x="201.6" y="126.6" font-size="11.2" fill="#262626" color="#262626" stroke-width="0.22" font-weight="normal" text-anchor="end" textLength="27.5" lengthAdjust="spacingAndGlyphs">MDD</text>
<text x="32.2" y="134.2" font-size="10.2" fill="#262626" color="#262626" stroke-width="0.22" font-weight="normal" text-anchor="end" textLength="23.5" lengthAdjust="spacingAndGlyphs">1000</text>
<text x="31.4" y="224.6" font-size="10.2" fill="#262626" color="#262626" stroke-width="0.22" font-weight="normal" text-anchor="end">0</text>
<path d="M121.27 241.38v3M121.98 239.88v3M42.24 242.42v3M45.18 243.74v3M48.05 245.22v3M123.06 243.86v3M92.08 241.69v3M131.57 242.89v3M120.89 243.42v3M78.15 242.99v3M62.19 240.18v3M103.1 240.31v3M134.85 240.84v3M63.11 240.24v3M53.23 244.56v3M48.47 245.77v3M93.91 245.5v3M110.57 240.23v3M99.59 239.96v3M123.23 244.23v3M64.05 244.76v3M96.72 242.21v3M87.34 244.09v3M93.45 241.24v3M79.03 240.5v3M102.61 241.86v3M45.28 243.64v3M119.54 240.67v3M47.95 243.09v3M104.56 241.52v3M120.8 246.58v3M125 245.87v3M94.66 245.95v3M45.68 244.91v3M57.02 244.07v3M145.53 241.54v3M141.48 244.64v3M65.37 244.72v3M81.11 241.32v3M55.91 246.8v3M61.22 242v3M47.66 242.43v3M47.44 245.39v3M36.65 242.39v3M113.88 243.67v3M129.13 241.3v3M97.12 245.39v3M44.19 243.75v3M95.46 244.97v3M89.87 243.93v3M37.66 243.29v3M51.6 241.14v3M115.88 244.91v3M113.77 243.35v3M122.35 246.88v3M61.83 239.9v3M88.39 243.89v3M94.49 241.27v3M92.55 242.06v3M41.17 243.45v3M104.01 243.48v3M102.88 240.73v3M39.07 245.95v3M68.01 242.43v3M124.52 246.39v3M86.93 240.76v3M93.76 242.31v3M117.36 241.13v3M135.5 243.12v3M53.26 245.99v3M66.94 246.68v3M107.32 245.41v3M119.21 243.76v3M128.63 245.96v3" stroke="#ff9215" stroke-width="1.05" fill="none"/>
<path d="M180.78 245.39v3M191.75 245.94v3M184.22 244.88v3M199.98 240.12v3M182.26 242.84v3M157.09 241.17v3M160.67 240.57v3M156.46 241.33v3M161.06 244.43v3M156.57 243.42v3M172.64 240.62v3M178.15 241.6v3M188.86 240.22v3M189.59 245.63v3M172.28 244.55v3M163.28 242.78v3M196.29 245.86v3M185.95 245.96v3M167.21 241.1v3M173.17 241.4v3M167.69 241.01v3M179.8 243.76v3M184.15 243.55v3M158.32 243.07v3M185.86 244.68v3M188.77 243.14v3M160.91 241.78v3M165.21 244.01v3M188.43 245.78v3M158.22 240.11v3M172.62 242.86v3M182.12 240.68v3M174.51 244.51v3M172.05 242.52v3M177.42 245.08v3M177.06 244.02v3M190.11 245.84v3M155.35 243.45v3M157.34 243.55v3M165.24 245.94v3M155.81 244.86v3M193.45 241.93v3M179.44 240.45v3M182.48 245.61v3M174.3 240.2v3M161.05 245.62v3M166.93 245.68v3M192.13 243.97v3M156.3 245.78v3M159.27 243.63v3M179.7 244.5v3M180.25 243.55v3M184.13 241.2v3M193.44 240.3v3M173.06 244.48v3M188.26 242.64v3M196.93 240.59v3M168.99 243.32v3M186.49 241.47v3M198.9 241.45v3M156.38 245.32v3M180.83 243.7v3M181.15 244.51v3M189.15 244.95v3M156.86 242.55v3M179.03 242.64v3M155.65 242.52v3M177.8 242.05v3M164.55 244.71v3M159.54 245.37v3M174.28 241.68v3M156.7 244.28v3M176.69 241.16v3M156.32 239.85v3M176.1 244.12v3M157.87 244.69v3M156.34 241.88v3M172.2 246.07v3M158.17 244.33v3M180.62 241.82v3M156.39 244.59v3M183.79 245.12v3M189.22 240.68v3M166.33 245.54v3M198.58 242.54v3M169.82 241.53v3M185.36 242.18v3M190.98 243.13v3M172.42 243.12v3M184.25 241.65v3M194.24 240.18v3M157.79 243.77v3M160.22 244.32v3M184.86 244.18v3M184.7 242.3v3M190.41 245.2v3M182.56 239.91v3M177.54 240.61v3M175.47 239.92v3M185.86 243.29v3M195.71 243.1v3M176.99 241.23v3M173.53 243.11v3M186.02 239.82v3M170.93 240.03v3M163.61 245.86v3M173.17 245.38v3M172.53 240.24v3M157.06 243.93v3M175.52 243v3M175.85 243.19v3M188.56 245.1v3M164.15 243.84v3M163.79 245.73v3M174.2 244.09v3M182.3 245.57v3M156.31 240.53v3M192.43 244.98v3M160.14 241.81v3M165.03 245.6v3M159.54 244.79v3M183.94 245.89v3M193.73 244.56v3M179.48 242.26v3M162.66 243.1v3M178.49 244.73v3M158.29 240.17v3M161.27 243.2v3M156.13 243.38v3M189.26 244.32v3M195.27 241.96v3M186.91 243.62v3M179.61 244.44v3M198.75 242.2v3M161.74 244.09v3M155.97 245.49v3M183.33 242.13v3M179.95 243.11v3M160.28 242.85v3M199.79 245.08v3M154.72 241.5v3M177.17 241.6v3M184.91 242.27v3M176.88 243.91v3M192.86 240.77v3M176.85 245.96v3M180.16 242.97v3M162.15 244.4v3M163.03 242.4v3M173.69 239.97v3M180.54 242.23v3M158.39 243.4v3M177.55 240.37v3M165.27 245.97v3M172.92 243.5v3M181.04 242.69v3M178.61 239.98v3M186.99 241.35v3M171.69 241.92v3M199.77 243.89v3M180.43 240.9v3M176.66 242.86v3M177.76 241.51v3M187.93 243.36v3M185.88 244.14v3M198.66 243.06v3M192.59 244.53v3M198.21 243.72v3M189.12 240.33v3M179.75 243.94v3M162.16 242.85v3M160.36 244.58v3M180.31 245.7v3M159.01 242.02v3M195.53 245.16v3M199.74 241.25v3M180.54 243.9v3M184.97 239.83v3M177.15 245v3M164.24 242.61v3M177.46 242.66v3M180.54 242.94v3M154.73 242.15v3M198.62 241.25v3M171.18 244.16v3M176.18 243.75v3M176.65 240.14v3M173.16 241.5v3M190.25 245.67v3M197.75 241.58v3M185.45 241.65v3M156.34 243.44v3M173.25 242.15v3M171.08 245.77v3M163.14 245.99v3M168.9 240.61v3M157.86 241.22v3M190.3 240.88v3M185.89 242.6v3M195.81 241.59v3M191.11 244.05v3M162.48 245.38v3M178.86 240.25v3M164.24 239.96v3M168.78 240.51v3M199.64 241.75v3M172.05 240.64v3M166.24 242.52v3M168.53 242.09v3M168.79 244.38v3M194.64 245.89v3M162.7 245.96v3M187.36 242.45v3M193.14 243.85v3M184.39 240.63v3M171.09 243.65v3M180.51 245.37v3M169.27 245.38v3M165.7 240.68v3M173.03 240.85v3M183.42 245.48v3M155.67 244.19v3M195.5 244.6v3M199.02 240.22v3M168.25 243.7v3M168.52 239.94v3M189.17 244.44v3M177.59 244.81v3M160.66 241.83v3M194.14 239.82v3M181.56 244.42v3M176.86 246.09v3M177.38 243.71v3M154.8 242.11v3M180.92 241.87v3M171.09 244.91v3M161.46 245.9v3M188.63 242.1v3M175.91 241.19v3M160.94 246.08v3M184.16 242.49v3M162.26 242.59v3M181.44 241.76v3M176.85 244.37v3M178.71 245.99v3M184.08 242.76v3M175.27 245.19v3M165.68 242.32v3M184.15 242.46v3M186.73 244.85v3M190.82 245.92v3M156.65 244.56v3M185.41 244.24v3M174.27 245.01v3M177.67 245.59v3M165.57 245.81v3M185.52 243.15v3M155.9 242.24v3M168.99 239.84v3M175.4 243.12v3M174.4 242.04v3M170.19 239.8v3M189.35 246.06v3M172.65 241.74v3M158.38 245.67v3M178.12 239.9v3M186.91 242.07v3M164.68 244.74v3M157.24 244.04v3M188.79 244.04v3M167.8 242.88v3M154.48 240.38v3M155.32 245.04v3M175.7 244.6v3M161 242.81v3M157.95 243.34v3M188.47 244.86v3M188.56 242.91v3M166.6 242.8v3M156.38 242.85v3M187.88 244.44v3M172.53 244.43v3M163.3 241.91v3M154.96 244.69v3M154.48 242.17v3M177.19 244.04v3M156.12 242.18v3M160.15 245.46v3M198.63 245.72v3M161.46 244.7v3M156.17 242.2v3M166.13 242.01v3M187.17 242.53v3M163.4 243.61v3M168.07 240.01v3M181.23 243.24v3M170.88 245.65v3M184.09 240.2v3M184.02 245.42v3M189.46 243.4v3M155.9 246.09v3M173.27 244.35v3M157.13 244.33v3M155.67 244.54v3M175.21 242.45v3M160.12 240.54v3M188.35 245.18v3M172.06 245.33v3M184.18 244.34v3M178.22 241.17v3M168.27 242.95v3M187.99 243.04v3M188.73 242.09v3M184.73 242.88v3M174.38 242.68v3M170.4 245.98v3M171.11 243.75v3M168.27 245.95v3M198.37 245.52v3M161.74 240.92v3M157.78 244.66v3M184.86 242.2v3M157.92 243.56v3M190.67 243.35v3M171.41 244.46v3M170.02 241.69v3M190.97 244.07v3M184.41 242.13v3M179.87 244.73v3M173.86 242.91v3M154.41 243.85v3M155.44 246.08v3M174.65 241.57v3M169.16 239.83v3M196.18 245.44v3M162.69 243.11v3M186.95 243.87v3M190.61 245.03v3M157.98 245.41v3M179.56 242.23v3M157.61 246.02v3M180.68 242.26v3M156.87 244.38v3M166.1 245.04v3M178.42 242.09v3M176.37 242.45v3M179.82 242.11v3M185.46 241.96v3M156.44 242.4v3M199.38 245.14v3M178.55 240.18v3M185.76 246.03v3M182.78 244.78v3M182.88 243.32v3M197.3 243.85v3M193.43 241.69v3M169.76 244.62v3M169.32 245.31v3M160.71 242.21v3M185.74 242.95v3M182.6 241.18v3M163.41 241.38v3M185.08 245.17v3M173.47 243.85v3M160.09 242.62v3M181.9 243.83v3M196.65 240.97v3M179.47 239.82v3M186.76 242.05v3M195.96 243.42v3M176.86 240.96v3M177.98 243.21v3M197.78 241.85v3M199.2 241.45v3M170.69 244.46v3M197.98 242.07v3M180.1 244.48v3M171.61 244.52v3M173.25 242.17v3M154.9 240v3M160.38 245.11v3M157.25 243.27v3M155.5 243.45v3M164.81 244.12v3M159.98 243.26v3M190.88 245.51v3M175.82 239.86v3M154.91 245.9v3M185.67 243.68v3M185.95 242.37v3M163.65 245.52v3M176.83 245.44v3M192.87 243.56v3M165.48 239.86v3M158.31 243.73v3M196.84 242.4v3M177.02 243.42v3M168.5 245.03v3M197 240.63v3M166.85 245.12v3M191.48 241.76v3M176.86 241.38v3M169.4 240.04v3M158.41 240.47v3M169.28 241.49v3M178.21 243.13v3" stroke="#ff8c00" stroke-width="1.05" fill="none"/>
<path d="M105.83 247.94v3M91.94 251.05v3M90.38 247.38v3M101.7 247.34v3M73.73 252.5v3M39.39 246.43v3M45 252.04v3M115.46 249.38v3M60.1 246.35v3M42.17 246.94v3M108.3 251.03v3M44.84 247.19v3M98.1 247.96v3M140.82 247.74v3M139.44 251.75v3M42.45 252.79v3M89.65 247.46v3M93.79 251.79v3M112.19 247.51v3M99.44 251.32v3M42.03 251.73v3M123.76 248.31v3M117.54 246.62v3M39.94 253.06v3M140.13 250.7v3M54.09 248.55v3M139.92 249.35v3M43.92 250.06v3M141.45 251.19v3M118.35 247.77v3M78.17 248.23v3M100.28 248.89v3M130.78 250.8v3M74.45 251.19v3M99.91 250.69v3M111.99 249.65v3M75.67 249.27v3M48.55 251.88v3M132.78 251.25v3M42.03 249.43v3M73.87 246.59v3M46.9 249.55v3M143 249.04v3M113.31 249.78v3M141.35 248.9v3M51.92 249.46v3M48.89 249.09v3M48.55 250.86v3M144.87 248.5v3M137.33 247.33v3M51.29 250.79v3M110.17 249.17v3M143.77 249.2v3M96.63 252.11v3M112.9 252.69v3M83.78 246.27v3M129 248.93v3M42.07 248.27v3M138.87 253.09v3M110.37 252.18v3M51.54 249.64v3M48.4 250.02v3M100.92 248.24v3M57.58 250.07v3M68.38 249.17v3M50.53 246.38v3M51.76 247.18v3M97.12 246.83v3M137.98 252.31v3M130.16 249.73v3M42.82 251.33v3M119.46 252.03v3M76.43 249.18v3M98.49 249.19v3M81.46 251.91v3M116.42 251.43v3M74.43 246.19v3M137.31 249.06v3M73.88 252.68v3M40.95 246.17v3M68.8 246.13v3M46.84 251.3v3M126.02 252.4v3M128.37 248.51v3M46.26 246.82v3M49.48 246.75v3M80.64 251.82v3M85.89 249.89v3M138.25 246.57v3M102.22 248.73v3M40.71 251.24v3M43.08 246.8v3M104.85 247.97v3M39.58 247.56v3M117.91 247.63v3M55.99 248.08v3M133.15 251.37v3M119.42 251.22v3M114.63 246.82v3M45.31 251.89v3M54.03 246.99v3M145.41 251.12v3M143.64 247.58v3M87.8 250.78v3M138.84 248.38v3M45.08 246.39v3M132.78 248.51v3M140.41 250.85v3M95.58 248.97v3M55.4 248.67v3M138.12 247.74v3M57.72 250.44v3M96.15 252.19v3M56.2 249.2v3M43.95 247.28v3M124.76 249.62v3M52.49 249.76v3M144.4 251.21v3M103.86 250.82v3M114.14 250.7v3M136.02 249.1v3M69.32 249.22v3M113.9 253.06v3M39.6 251.49v3M91.4 249.66v3M145.41 247.26v3M40.66 248.74v3M76.93 247.51v3M41.76 246.72v3M40.27 251.84v3M51.63 247.66v3M67.52 247.66v3M134.64 248.87v3M44.77 247.03v3M64 246.74v3M45.02 250.62v3M79.15 250.63v3M117.25 246.42v3M82.64 249.14v3M77.81 247.73v3M81.51 251.06v3M131.63 248.68v3M41.46 249.63v3M52.36 252.47v3M116.59 246.95v3M109.85 251.52v3M45.36 246.44v3M106.31 248.4v3M64.34 246.21v3M39.53 248.94v3M81.57 250.84v3M59.68 250.29v3M51.81 248.19v3M103.45 248.68v3M89.19 247.54v3M109.52 248.53v3M131.18 250.53v3M139.33 249.07v3M96.68 247.03v3M75.06 249.41v3M131.5 252.93v3M141.75 249.13v3M79.62 250.42v3M119.56 248.18v3M114.08 250.82v3M94.91 248.93v3M43.25 246.12v3M80.55 246.99v3M39.1 249.22v3M84.68 249.44v3M81.19 250.5v3M57.11 248.15v3M80.31 252.59v3M139.22 251.12v3M108.79 249.46v3M99.06 251.4v3M39.38 249.53v3M55.75 251.02v3M83.9 246.51v3M119.31 249.71v3" stroke="#1c8a1c" stroke-width="1.05" fill="none"/>
<path d="M189.24 251.2v3M181.94 251.99v3M191.91 253.07v3M170.44 246.77v3M175.9 252.91v3M167.47 249.58v3M172.04 251.79v3M175.49 251.51v3M175.45 247.17v3M173.94 250.49v3M190.35 247.11v3M187.36 251.48v3M171.52 248.8v3M194.19 249.06v3M176.48 248.36v3M190.02 252.01v3M173.7 250.86v3M169.55 248.53v3M161.01 251.54v3M187.19 247.76v3M192.44 251.95v3M189.11 250.61v3M167.99 251.71v3M166.77 250.69v3M157.12 253.2v3M166.83 251.23v3M163.17 249.65v3M185.57 250.52v3M171.56 250.35v3M188.39 248.44v3M184.51 248.58v3M178.12 251.93v3M195.27 252.06v3M161.16 253.06v3M165.07 251.17v3M166.89 249.93v3M175.82 249.19v3M188.06 251.3v3M197.33 250.91v3M178.46 252.91v3M190.21 251.58v3M173.2 249.11v3M187.77 248.39v3M175.75 246.81v3M199.37 251.81v3M166.56 249.41v3M157.01 249.18v3M188.31 246.86v3M159.27 249.87v3M155.97 252.61v3M160.49 248.39v3M169.07 251.55v3M180.54 251.66v3M172.18 250.99v3M196.54 250.55v3M186.66 248.2v3M175.54 251.09v3M163.48 250.47v3M196.48 253.07v3M174.8 250v3M168.84 248.91v3M160.53 252.66v3M160.66 250.75v3M177.98 248.82v3M188.24 250.92v3M180.89 247.54v3M197.05 247.78v3M180.3 252.51v3M159.1 249.65v3M196.78 251.95v3M164.87 247.96v3M172.74 249.7v3M162.79 248.11v3M187.98 251.96v3M162.52 250.56v3M166.5 249.18v3M182.85 249.11v3M171.17 247.94v3M161.05 247.93v3M183.92 251.2v3M170.17 248.62v3M196.45 247.21v3M164.19 249.12v3M182.42 249.58v3M180.39 253.22v3M190.34 249.12v3M182.61 249.24v3M170.03 253.11v3M162.63 251.4v3M167.51 249.62v3M186.43 249.21v3M172.81 248.03v3M176.41 247.54v3M174.95 249.71v3M171.11 250.85v3M159.48 247.22v3M164.77 249.74v3M185.97 247.68v3M163.92 250.59v3M198.76 248.84v3M188.36 251.03v3M164.73 251.82v3M187.44 249.25v3M162.81 249.1v3M189.11 247.04v3M175.08 247.94v3M186.21 250.73v3M195.16 251.99v3M159.86 247.44v3M183.85 253.14v3M198.6 252.72v3M175.71 248.99v3M190.17 250.17v3M186.43 251.07v3M173.64 248.74v3M158.68 248.99v3M172.85 251.41v3M196.38 249.79v3M168.34 249.47v3M184.81 250.33v3M187.61 247.29v3M165.56 249.7v3M194.81 248.5v3M173.56 247.64v3M189.85 250.07v3M158.2 251.28v3M172.46 250.08v3M183.96 249.89v3M157.91 251.05v3M184.29 249.37v3M197.92 253.18v3M173.22 247.96v3M161.81 246.56v3M187.11 250.37v3M195.88 251.23v3M163.19 249.1v3M172.57 249.21v3M179.48 248.83v3M161.71 248.15v3M186.93 251.88v3M195.16 252.37v3M197.49 248.4v3M184.5 250.34v3M191.31 249.63v3M174.08 247.39v3M185.53 251.49v3M165.53 250.12v3M167.31 253.24v3M165.64 252.69v3M171.7 252.64v3M172.19 248.28v3M170.12 247.25v3M183.83 252.01v3M197.32 247.24v3M198.47 251.17v3M191.65 247.69v3M187.47 251.29v3M169.68 246.87v3M167.1 247.1v3M159.55 252.4v3M191.37 250.01v3M158.39 249.56v3M160.93 253.11v3M175.76 251.83v3M154.69 248.03v3M185.27 251.3v3M178.36 249.12v3M165.19 249.65v3M195.61 248.63v3M177.58 248.04v3M170.02 248.56v3M169.94 248.35v3M199.68 247.78v3M191.9 252.44v3M180.41 249.08v3M194.68 250.31v3M181.71 252.02v3M167.55 251.11v3M184.4 247.56v3M184.6 252.98v3M173.34 252.84v3M197.91 252.21v3M196.87 248.74v3M193.35 252.15v3M191.09 250.86v3M194.86 246.71v3M163.23 249.07v3M184.56 251.25v3M176.82 250.2v3M161.86 252.94v3M185.27 251.88v3M160.49 252.19v3M167.73 253.17v3M176.97 248.83v3M175.66 252.67v3M186.3 246.52v3M164.08 251.93v3M166.59 247.1v3M171.62 249.9v3M159.75 249.5v3M185.42 246.99v3M171.94 250.83v3M170.44 251.86v3M177.77 248.02v3M169.17 248.17v3M189.67 251.74v3M199.11 250.09v3M154.93 246.63v3M184.5 248.59v3M182.04 252.92v3M175.02 248.38v3M162.88 248.47v3M174.27 249.57v3M191.85 252.53v3M190.63 252v3M159.91 249.12v3M166.47 251.03v3M171.3 246.69v3M166.32 246.94v3M184.76 249.03v3M159.24 250.81v3M164.98 247.46v3M168.93 246.79v3M169.51 252.3v3M191.15 247.76v3M163.84 246.87v3M161.11 247.08v3M174.94 247.04v3M181.28 248.44v3M181.36 250.44v3M167.41 250.96v3M166.8 248.44v3M169.82 250v3M175.36 248.76v3M178.53 250.44v3M184.77 247.24v3M176.85 250.74v3M181.74 246.5v3M168.32 252.77v3M198.84 247.92v3M179.67 250.27v3M183.81 247.78v3M196.69 249.52v3M199.74 248.3v3M159.05 250.86v3M186.78 251.8v3M168.44 252.24v3M183.88 253.12v3M181.25 249.6v3M156.42 250.24v3M174.72 248.89v3M195.34 248.46v3M169.67 249.96v3M164.26 253.12v3M189.55 246.88v3M194.86 251.58v3M190.93 248.7v3M164.84 250.56v3M191.6 248.31v3M170.06 251.39v3M189.72 249.87v3M166.44 248.61v3M168.94 249.55v3M182.63 246.53v3M190.29 247.17v3M184.82 252.67v3M182 247.06v3M166.73 249.2v3M176.87 251.05v3M169.06 246.75v3M161.1 252.83v3M199.74 247.91v3M176.72 253.04v3M195.8 249.45v3M196.3 250.49v3M167.35 250.61v3M189.4 247.11v3M190.27 249.94v3M191.81 251.6v3M188.42 251.87v3M174.52 251.5v3M160.22 251.13v3M192.86 247.37v3M170.01 249.28v3M182.65 249.96v3M159.47 246.78v3M184.04 251.71v3M172.82 247.19v3M179.3 250.34v3M182.01 248.32v3M170.17 247.61v3M162.5 252.98v3M192.13 250.72v3" stroke="#138513" stroke-width="1.05" fill="none"/>
<path d="M56.04 252.94v2.8M53.63 254.68v2.8M92.41 256.72v2.8M74.98 255.13v2.8M67.04 255.43v2.8M50.31 256.07v2.8M70 255.51v2.8M50.22 256.87v2.8M49.73 256.9v2.8M89.74 255.95v2.8M48.15 256.25v2.8M87.09 253.32v2.8M41.49 253.86v2.8M73.42 255.83v2.8M51.99 255.25v2.8M69.07 256.49v2.8M70.28 256.11v2.8M51.52 254.16v2.8M70.75 253.45v2.8M64.57 255.59v2.8M68.42 253.19v2.8M88.73 254.88v2.8M42.03 253.91v2.8M43.76 254.47v2.8M71.17 255.58v2.8M55.65 255.49v2.8M75.71 255.42v2.8M87.09 252.97v2.8M70.52 256.63v2.8M64.71 255.8v2.8M86.65 256.69v2.8M78.34 255.4v2.8M88.01 255.54v2.8M50.82 256.61v2.8M94.59 255.98v2.8M60.29 255.49v2.8M38.86 252.88v2.8M85.06 252.81v2.8M66.24 255.85v2.8M70.88 256.43v2.8M70.22 254.4v2.8M81.23 253.63v2.8M76.08 254.64v2.8M73.09 256.4v2.8M70.58 256.02v2.8M57.33 253.27v2.8M72.8 253.59v2.8M68.66 253.61v2.8M62.32 255.98v2.8M59.61 253.8v2.8M41.06 256.61v2.8M72.11 254.51v2.8M48.82 253.55v2.8M55.03 254.53v2.8M173.58 256.97v2.8M195.81 253.77v2.8M187.51 256.43v2.8M161.06 255.59v2.8M155.25 256.75v2.8M163.24 254.02v2.8M176.43 255.62v2.8M154.81 256.61v2.8" stroke="#e2284f" stroke-width="1.05" fill="none"/>
<path d="M139.07 305.1v3M133.9 300.76v3M100.38 270.9v3M96.4 323.94v3M146.31 260.74v3M71.33 274.09v3M134.18 270.2v3M125.25 271.16v3M75.57 323.64v3M50.53 297.22v3M67.97 309v3M43.73 303.67v3M65.95 322.61v3M74.29 303.15v3M39.25 321.41v3M109.84 319.7v3M122.68 261.97v3M122.68 283.64v3M59.32 318.1v3M113.37 281.5v3M44.29 301.78v3M42.85 274.07v3M41.54 269.54v3M123.15 275.98v3M150.99 276.77v3M129.17 307.65v3M111 298.79v3M52.23 313.92v3M143.57 293.8v3M57.75 263.72v3M65.77 323.6v3M72.92 276.86v3M97.21 260.24v3M128.05 310.59v3M71.79 259.92v3M140.91 312.63v3M125.05 272.14v3M147.25 301.22v3M39.61 324.25v3M117.39 270.34v3M139.82 298.27v3M110.18 259.78v3M60.81 311.46v3M37.5 271v3M44.02 297.29v3M51.98 310.92v3M88.61 310.78v3M142.49 323.59v3M58.27 282.53v3M128.55 280.37v3M145.37 280.63v3M109.04 275.21v3M120.28 277.06v3M85.16 306.78v3M132.55 267.37v3M56.1 272.23v3M125.44 303.46v3M119.59 312.5v3M63.19 291.47v3M36.47 281.71v3M106.03 275.5v3M128.67 272.25v3M87.49 304.14v3M61.77 302.76v3M82.62 261.18v3M48.21 301.99v3M131.89 303.85v3M136.6 302.9v3M126.76 314.56v3M105.38 293.83v3M54.74 273.87v3M45.92 265.41v3M81.62 277.66v3M101.59 313.89v3M67.28 318.36v3M133.23 270.89v3M104.72 271.25v3M43.46 272.79v3M59.73 258.41v3M38.89 312.47v3M136.87 316.28v3M44.47 259.49v3M135.96 283.23v3M76.19 305.27v3M97.83 280.16v3M53.42 265.67v3M119.01 319.12v3M40.38 273v3M97.15 275.91v3M92.99 291.82v3M66.69 265.82v3M84.79 312.73v3M52.04 294.27v3M130.5 296.47v3M76.38 320.65v3M127.09 325.29v3M70.88 290.6v3M88.45 314.71v3M108.23 295.1v3M95.96 318.12v3M77.12 266.77v3M56.47 274.38v3M47.07 323.92v3M100.69 311.83v3M88.91 293.14v3M62.19 318.12v3M84.96 285.33v3M122.53 316.61v3M152.31 290.43v3M85.38 313.74v3M85.49 271.59v3M91.67 278.58v3M65.95 310.13v3M76.64 300.17v3M71.24 265.62v3M190.02 310.28v3M186.54 299.13v3M162.35 291.8v3M192.39 310.92v3M181.34 300.56v3M162.18 261.63v3M192.98 259.14v3M165.96 284.92v3M186.33 305.01v3M193.92 320.76v3M166.78 274.73v3M159.97 280.2v3M159.09 322.87v3M180.61 291.1v3M157.02 319.56v3M165.57 309.93v3M163.73 276.19v3M160.65 294.06v3M167.36 296.54v3M187.01 273.17v3M160.4 292.74v3M172.63 288.11v3M171.2 269.05v3M159.99 307.06v3M183.32 304.39v3M183.52 292.6v3M163.36 319.69v3M178.69 288.87v3M166.31 283.38v3M199.13 285.36v3M191.06 266.31v3M181.72 276.27v3M165.08 278.43v3M172.48 301.41v3M172.98 316.11v3M161.47 315.72v3M174.31 311.47v3M172.4 275.29v3M195.19 300.94v3M187.34 293.22v3M186.8 322.56v3M188.18 323.4v3M170.33 278.04v3M194.68 314.27v3M194.92 287.34v3M173.26 321.94v3M163.64 269.15v3M162.24 278.36v3M173.44 283.79v3M175.39 260.29v3M169.99 292.25v3M156.87 290.45v3M195.68 302.06v3M197.54 316.04v3M176.92 259.33v3M157.12 296.85v3M192.83 280.32v3M160.4 309.21v3M178.98 289.54v3M160.22 295.34v3M180.56 305.93v3M195.54 263.03v3M192.3 279.62v3M173.35 281.15v3M191.22 287.72v3M157.66 289.95v3M161.16 258.97v3M156.72 283.63v3M174.95 257.95v3M160.64 318.86v3M179.2 324.16v3M179.13 322.41v3M185.93 284.08v3M156.69 267.88v3M190.53 302.66v3M167.96 268.94v3M183.58 320.76v3M165.72 325.29v3M178.76 271.97v3M162.72 306v3M196.72 271.64v3M165.26 267.57v3M163.91 273.15v3M173.44 273.97v3M184.63 274.11v3M166.54 286.21v3M162.12 261.36v3M158.52 258.23v3M185.14 261.22v3M176.27 318v3M182.42 278.6v3M172.74 286.79v3M169.04 261.53v3M161.53 267.57v3M163.88 280.27v3M159.08 299.52v3M163.51 292.4v3M186.01 291.51v3M188.19 310.64v3M174.81 272.25v3M167.94 282.75v3M158.25 277.56v3M159.51 318.18v3M157.44 289.81v3M164.55 274.67v3M168.82 273.18v3M159.61 298.35v3M158.92 321.21v3M163.85 322.63v3M156.62 316.24v3M167.24 273.04v3M160.85 261.15v3M174.8 294.59v3M157.36 317.61v3M160.99 323.48v3M156.34 276.41v3M157.69 325.2v3M161.07 321.42v3M160.79 313.58v3M162.86 312.25v3M161.43 273.6v3M159.73 292.57v3M165.95 316.85v3M159.6 271.16v3M174.67 296.48v3M155.52 311.56v3M158.05 304.5v3M163.7 304.67v3M164.73 312.66v3M158.65 317.5v3M163.18 303.61v3M155.32 295.13v3M158.58 289.46v3M159.95 275.22v3M159.25 258.33v3M167.98 265.23v3M162.18 310.3v3M163.95 281.15v3M165.09 299.43v3M160.32 286.99v3M155.68 273.61v3M162.84 312.85v3M165.07 295.02v3M164.23 273.4v3M157.08 316.25v3M167.78 319.92v3M158.56 264.6v3M160.34 270.69v3M165.43 319.82v3M163.97 297.84v3M159.94 267.61v3M161.53 276.8v3M164.08 269.53v3M159.4 276.57v3M164.69 298.56v3M90.53 275.44v3M91.75 279.04v3M92.97 282.64v3M94.19 286.24v3M95.41 289.84v3M86.21 303.5v3M84.95 307.1v3M83.69 310.7v3M153.91 262.09v3M155.82 265.69v3M157.73 269.29v3M159.64 272.89v3M161.55 276.49v3M83.86 304.49v3M86.16 308.09v3M88.45 311.69v3M90.75 315.29v3M155.66 288.42v3M153.53 292.02v3M151.39 295.62v3M149.25 299.22v3" stroke="#262626" stroke-width="1.15" fill="none"/>
<path d="M156.06 322.41v3.2M160.35 323.9v3.2M155.89 323.07v3.2M154.74 324.6v3.2M155.67 322.35v3.2M158.25 322.69v3.2M160.13 323.83v3.2M156.43 324.67v3.2M156.62 325.3v3.2M160.1 325.14v3.2M158.1 324.08v3.2M155.6 323v3.2M155.14 322.11v3.2M159.82 324.11v3.2" stroke="#111" stroke-width="1.15" fill="none"/>
<line x1="153.6" y1="238.9" x2="153.6" y2="329.5" stroke="#ff2e2e" stroke-width="1.4" stroke-dasharray="3,1.6"/>
<rect x="34.7" y="238.9" width="166.5" height="90.6" fill="none" stroke="#1f8ff5" stroke-width="1.8"/>
<text x="201.2" y="235.4" font-size="11.2" fill="#262626" color="#262626" stroke-width="0.22" font-weight="normal" text-anchor="end" textLength="90" lengthAdjust="spacingAndGlyphs">MDD + <tspan font-style="italic">α</tspan>5-PAM</text>
<text x="32.2" y="242.5" font-size="10.2" fill="#262626" color="#262626" stroke-width="0.22" font-weight="normal" text-anchor="end" textLength="23.5" lengthAdjust="spacingAndGlyphs">1000</text>
<text x="31.4" y="333" font-size="10.2" fill="#262626" color="#262626" stroke-width="0.22" font-weight="normal" text-anchor="end">0</text>
<text x="56.8" y="340.4" font-size="10.2" fill="#262626" color="#262626" stroke-width="0.22" font-weight="normal" text-anchor="middle" textLength="22.4" lengthAdjust="spacingAndGlyphs">−200</text>
<text x="103.6" y="340.4" font-size="10.2" fill="#262626" color="#262626" stroke-width="0.22" font-weight="normal" text-anchor="middle" textLength="22.4" lengthAdjust="spacingAndGlyphs">−100</text>
<text x="153.6" y="340.4" font-size="10.2" fill="#262626" color="#262626" stroke-width="0.22" font-weight="normal" text-anchor="middle">0</text>
<text x="200.5" y="340.4" font-size="10.2" fill="#262626" color="#262626" stroke-width="0.22" font-weight="normal" text-anchor="middle">100</text>
<text x="89.3" y="351.2" font-size="11.2" fill="#262626" color="#262626" stroke-width="0.22" font-weight="normal" text-anchor="start" textLength="56.5" lengthAdjust="spacingAndGlyphs">Time (ms)</text>
<text x="12.2" y="177.4" font-size="11.2" fill="#262626" color="#262626" stroke-width="0.22" font-weight="normal" text-anchor="middle" textLength="75" lengthAdjust="spacingAndGlyphs" transform="rotate(-90 12.2 177.4)">Neuron Index</text>
<line x1="239.4" y1="29.5" x2="239.4" y2="152.3" stroke="#9c9c9c" stroke-width="0.85"/>
<line x1="239.4" y1="152.3" x2="436.3" y2="152.3" stroke="#9c9c9c" stroke-width="0.85"/>
<line x1="237.2" y1="137.5" x2="239.4" y2="137.5" stroke="#808080" stroke-width="0.8"/>
<text x="235.8" y="141.1" font-size="10.2" fill="#262626" color="#262626" stroke-width="0.22" font-weight="normal" text-anchor="end">1</text>
<line x1="237.2" y1="110.6" x2="239.4" y2="110.6" stroke="#808080" stroke-width="0.8"/>
<text x="235.8" y="114.2" font-size="10.2" fill="#262626" color="#262626" stroke-width="0.22" font-weight="normal" text-anchor="end">2</text>
<line x1="237.2" y1="83.7" x2="239.4" y2="83.7" stroke="#808080" stroke-width="0.8"/>
<text x="235.8" y="87.3" font-size="10.2" fill="#262626" color="#262626" stroke-width="0.22" font-weight="normal" text-anchor="end">3</text>
<line x1="237.2" y1="56.8" x2="239.4" y2="56.8" stroke="#808080" stroke-width="0.8"/>
<text x="235.8" y="60.4" font-size="10.2" fill="#262626" color="#262626" stroke-width="0.22" font-weight="normal" text-anchor="end">4</text>
<line x1="297" y1="152.3" x2="297" y2="154.5" stroke="#808080" stroke-width="0.8"/>
<line x1="389.4" y1="152.3" x2="389.4" y2="154.5" stroke="#808080" stroke-width="0.8"/>
<text x="296.5" y="163.5" font-size="10.2" fill="#262626" color="#262626" stroke-width="0.22" font-weight="normal" text-anchor="middle" textLength="61" lengthAdjust="spacingAndGlyphs">Pre-stimulus</text>
<text x="389" y="163.6" font-size="10.2" fill="#262626" color="#262626" stroke-width="0.22" font-weight="normal" text-anchor="middle" textLength="69" lengthAdjust="spacingAndGlyphs">Post-stimulus</text>
<text x="225.5" y="91" font-size="10.6" fill="#262626" color="#262626" stroke-width="0.22" font-weight="normal" text-anchor="middle" textLength="101" lengthAdjust="spacingAndGlyphs" transform="rotate(-90 225.5 91)">Pyr Firing Rate (Hz)</text>
<rect x="253.2" y="26.2" width="5.5" height="5.4" fill="#808080" stroke="none" stroke-width="1"/>
<text x="264.3" y="31.8" font-size="10" fill="#262626" color="#262626" stroke-width="0.22" font-weight="normal" text-anchor="start" textLength="36.7" lengthAdjust="spacingAndGlyphs">Healthy</text>
<rect x="253.2" y="40.5" width="5.5" height="5.4" fill="#9b6bd0" stroke="none" stroke-width="1"/>
<text x="264.3" y="46.1" font-size="10" fill="#262626" color="#262626" stroke-width="0.22" font-weight="normal" text-anchor="start" textLength="22.5" lengthAdjust="spacingAndGlyphs">MDD</text>
<rect x="253.2" y="55" width="5.5" height="5.4" fill="#1f8ff5" stroke="none" stroke-width="1"/>
<text x="264.3" y="60.6" font-size="10" fill="#262626" color="#262626" stroke-width="0.22" font-weight="normal" text-anchor="start" textLength="74.4" lengthAdjust="spacingAndGlyphs">MDD + <tspan font-style="italic">α</tspan>5-PAM</text>
<line x1="274" y1="140.8" x2="274" y2="142.7" stroke="#808080" stroke-width="1.5"/>
<line x1="274" y1="145.7" x2="274" y2="147.5" stroke="#808080" stroke-width="1.5"/>
<line x1="268.4" y1="140.8" x2="279.6" y2="140.8" stroke="#808080" stroke-width="1.5"/>
<line x1="268.4" y1="147.5" x2="279.6" y2="147.5" stroke="#808080" stroke-width="1.5"/>
<rect x="263.4" y="142.7" width="21.2" height="3" fill="none" stroke="#808080" stroke-width="1.5"/>
<line x1="263.4" y1="144.2" x2="284.6" y2="144.2" stroke="#808080" stroke-width="1.5"/>
<circle cx="274" cy="139.5" r="1.3" fill="none" stroke="#808080" stroke-width="0.7"/>
<line x1="297" y1="128.2" x2="297" y2="130.8" stroke="#9b6bd0" stroke-width="1.5"/>
<line x1="297" y1="133.4" x2="297" y2="135.7" stroke="#9b6bd0" stroke-width="1.5"/>
<line x1="291.4" y1="128.2" x2="302.6" y2="128.2" stroke="#9b6bd0" stroke-width="1.5"/>
<line x1="291.4" y1="135.7" x2="302.6" y2="135.7" stroke="#9b6bd0" stroke-width="1.5"/>
<rect x="286.4" y="130.8" width="21.2" height="2.6" fill="none" stroke="#9b6bd0" stroke-width="1.5"/>
<line x1="286.4" y1="132.1" x2="307.6" y2="132.1" stroke="#9b6bd0" stroke-width="1.5"/>
<circle cx="297" cy="137.4" r="1.3" fill="none" stroke="#9b6bd0" stroke-width="0.7"/>
<line x1="320" y1="140.7" x2="320" y2="142.8" stroke="#1f8ff5" stroke-width="1.5"/>
<line x1="320" y1="145.4" x2="320" y2="147.2" stroke="#1f8ff5" stroke-width="1.5"/>
<line x1="314.4" y1="140.7" x2="325.6" y2="140.7" stroke="#1f8ff5" stroke-width="1.5"/>
<line x1="314.4" y1="147.2" x2="325.6" y2="147.2" stroke="#1f8ff5" stroke-width="1.5"/>
<rect x="309.4" y="142.8" width="21.2" height="2.6" fill="none" stroke="#1f8ff5" stroke-width="1.5"/>
<line x1="309.4" y1="144.1" x2="330.6" y2="144.1" stroke="#1f8ff5" stroke-width="1.5"/>
<line x1="296.9" y1="116.95" x2="296.9" y2="123.65" stroke="#111" stroke-width="1.1"/>
<line x1="294" y1="118.62" x2="299.8" y2="121.97" stroke="#111" stroke-width="1.1"/>
<line x1="299.8" y1="118.62" x2="294" y2="121.97" stroke="#111" stroke-width="1.1"/>
<line x1="320.2" y1="129.9" x2="320.2" y2="136.3" stroke="#9b6bd0" stroke-width="1.15"/>
<line x1="317.43" y1="131.5" x2="322.97" y2="134.7" stroke="#9b6bd0" stroke-width="1.15"/>
<line x1="322.97" y1="131.5" x2="317.43" y2="134.7" stroke="#9b6bd0" stroke-width="1.15"/>
<line x1="366.4" y1="56.5" x2="366.4" y2="85.3" stroke="#808080" stroke-width="1.3"/>
<line x1="366.4" y1="104.7" x2="366.4" y2="132.9" stroke="#808080" stroke-width="1.3"/>
<line x1="360.4" y1="56.5" x2="372.4" y2="56.5" stroke="#808080" stroke-width="1.3"/>
<line x1="360.4" y1="132.9" x2="372.4" y2="132.9" stroke="#808080" stroke-width="1.3"/>
<rect x="355.8" y="85.3" width="21.2" height="19.4" fill="none" stroke="#808080" stroke-width="1.3"/>
<line x1="355.8" y1="96.2" x2="377" y2="96.2" stroke="#808080" stroke-width="1.3"/>
<circle cx="366.4" cy="35.8" r="1.3" fill="none" stroke="#808080" stroke-width="0.7"/>
<circle cx="366.4" cy="43.1" r="1.3" fill="none" stroke="#808080" stroke-width="0.7"/>
<circle cx="366.4" cy="50" r="1.3" fill="none" stroke="#808080" stroke-width="0.7"/>
<circle cx="366.4" cy="51.6" r="1.3" fill="none" stroke="#808080" stroke-width="0.7"/>
<line x1="389.4" y1="60.8" x2="389.4" y2="87.9" stroke="#9b6bd0" stroke-width="1.3"/>
<line x1="389.4" y1="106" x2="389.4" y2="130.9" stroke="#9b6bd0" stroke-width="1.3"/>
<line x1="383.4" y1="60.8" x2="395.4" y2="60.8" stroke="#9b6bd0" stroke-width="1.3"/>
<line x1="383.4" y1="130.9" x2="395.4" y2="130.9" stroke="#9b6bd0" stroke-width="1.3"/>
<rect x="378.8" y="87.9" width="21.2" height="18.1" fill="none" stroke="#9b6bd0" stroke-width="1.3"/>
<line x1="378.8" y1="97.4" x2="400" y2="97.4" stroke="#9b6bd0" stroke-width="1.3"/>
<circle cx="389.4" cy="58.5" r="1.3" fill="none" stroke="#9b6bd0" stroke-width="0.7"/>
<line x1="412.7" y1="60" x2="412.7" y2="87.9" stroke="#1f8ff5" stroke-width="1.3"/>
<line x1="412.7" y1="108.2" x2="412.7" y2="124.8" stroke="#1f8ff5" stroke-width="1.3"/>
<line x1="406.7" y1="60" x2="418.7" y2="60" stroke="#1f8ff5" stroke-width="1.3"/>
<line x1="406.7" y1="124.8" x2="418.7" y2="124.8" stroke="#1f8ff5" stroke-width="1.3"/>
<rect x="402.1" y="87.9" width="21.2" height="20.3" fill="none" stroke="#1f8ff5" stroke-width="1.3"/>
<line x1="402.1" y1="98.3" x2="423.3" y2="98.3" stroke="#1f8ff5" stroke-width="1.3"/>
<circle cx="412.7" cy="39.3" r="1.3" fill="none" stroke="#1f8ff5" stroke-width="0.7"/>
<circle cx="412.7" cy="54.5" r="1.3" fill="none" stroke="#1f8ff5" stroke-width="0.7"/>
<line x1="465.6" y1="24.7" x2="465.6" y2="151.3" stroke="#9c9c9c" stroke-width="0.85"/>
<line x1="465.6" y1="151.3" x2="599.8" y2="151.3" stroke="#9c9c9c" stroke-width="0.85"/>
<line x1="463.4" y1="145.9" x2="465.6" y2="145.9" stroke="#808080" stroke-width="0.8"/>
<text x="462" y="149.5" font-size="10.2" fill="#262626" color="#262626" stroke-width="0.22" font-weight="normal" text-anchor="end">1</text>
<line x1="463.4" y1="123.5" x2="465.6" y2="123.5" stroke="#808080" stroke-width="0.8"/>
<text x="462" y="127.1" font-size="10.2" fill="#262626" color="#262626" stroke-width="0.22" font-weight="normal" text-anchor="end">2</text>
<line x1="463.4" y1="101.1" x2="465.6" y2="101.1" stroke="#808080" stroke-width="0.8"/>
<text x="462" y="104.7" font-size="10.2" fill="#262626" color="#262626" stroke-width="0.22" font-weight="normal" text-anchor="end">3</text>
<line x1="463.4" y1="78.7" x2="465.6" y2="78.7" stroke="#808080" stroke-width="0.8"/>
<text x="462" y="82.3" font-size="10.2" fill="#262626" color="#262626" stroke-width="0.22" font-weight="normal" text-anchor="end">4</text>
<line x1="463.4" y1="56.3" x2="465.6" y2="56.3" stroke="#808080" stroke-width="0.8"/>
<text x="462" y="59.9" font-size="10.2" fill="#262626" color="#262626" stroke-width="0.22" font-weight="normal" text-anchor="end">5</text>
<line x1="463.4" y1="33.9" x2="465.6" y2="33.9" stroke="#808080" stroke-width="0.8"/>
<text x="462" y="37.5" font-size="10.2" fill="#262626" color="#262626" stroke-width="0.22" font-weight="normal" text-anchor="end">6</text>
<line x1="490.7" y1="151.3" x2="490.7" y2="153.5" stroke="#808080" stroke-width="0.8"/>
<line x1="532.7" y1="151.3" x2="532.7" y2="153.5" stroke="#808080" stroke-width="0.8"/>
<line x1="574.8" y1="151.3" x2="574.8" y2="153.5" stroke="#808080" stroke-width="0.8"/>
<text x="490.7" y="161.6" font-size="10.2" fill="#262626" color="#262626" stroke-width="0.22" font-weight="normal" text-anchor="middle" textLength="37" lengthAdjust="spacingAndGlyphs">Healthy</text>
<text x="532.7" y="161.6" font-size="10.2" fill="#262626" color="#262626" stroke-width="0.22" font-weight="normal" text-anchor="middle" textLength="22.5" lengthAdjust="spacingAndGlyphs">MDD</text>
<text x="575" y="161.6" font-size="10.2" fill="#262626" color="#262626" stroke-width="0.22" font-weight="normal" text-anchor="middle" textLength="22" lengthAdjust="spacingAndGlyphs">MDD</text>
<text x="575.4" y="172.5" font-size="10.2" fill="#262626" color="#262626" stroke-width="0.22" font-weight="normal" text-anchor="middle" textLength="36.4" lengthAdjust="spacingAndGlyphs"><tspan font-style="italic">α</tspan>5-PAM</text>
<text x="454.5" y="88.7" font-size="10.4" fill="#262626" color="#262626" stroke-width="0.22" font-weight="normal" text-anchor="middle" textLength="19.6" lengthAdjust="spacingAndGlyphs" transform="rotate(-90 454.5 88.7)">SNR</text>
<line x1="490.7" y1="34.5" x2="490.7" y2="72.4" stroke="#808080" stroke-width="1.3"/>
<line x1="490.7" y1="99" x2="490.7" y2="128.6" stroke="#808080" stroke-width="1.3"/>
<line x1="484.3" y1="34.5" x2="497.1" y2="34.5" stroke="#808080" stroke-width="1.3"/>
<line x1="484.3" y1="128.6" x2="497.1" y2="128.6" stroke="#808080" stroke-width="1.3"/>
<rect x="478.9" y="72.4" width="23.6" height="26.6" fill="none" stroke="#808080" stroke-width="1.3"/>
<line x1="478.9" y1="87.6" x2="502.5" y2="87.6" stroke="#808080" stroke-width="1.3"/>
<circle cx="490.7" cy="30.6" r="1.3" fill="none" stroke="#808080" stroke-width="0.7"/>
<line x1="532.7" y1="88.7" x2="532.7" y2="107.6" stroke="#9b6bd0" stroke-width="1.3"/>
<line x1="532.7" y1="122.2" x2="532.7" y2="144" stroke="#9b6bd0" stroke-width="1.3"/>
<line x1="526.3" y1="88.7" x2="539.1" y2="88.7" stroke="#9b6bd0" stroke-width="1.3"/>
<line x1="526.3" y1="144" x2="539.1" y2="144" stroke="#9b6bd0" stroke-width="1.3"/>
<rect x="521.2" y="107.6" width="23" height="14.6" fill="none" stroke="#9b6bd0" stroke-width="1.3"/>
<line x1="521.2" y1="115.9" x2="544.2" y2="115.9" stroke="#9b6bd0" stroke-width="1.3"/>
<circle cx="532.7" cy="83.7" r="1.3" fill="none" stroke="#9b6bd0" stroke-width="0.7"/>
<circle cx="532.7" cy="145.6" r="1.3" fill="none" stroke="#9b6bd0" stroke-width="0.7"/>
<line x1="574.8" y1="48.8" x2="574.8" y2="81.3" stroke="#1f8ff5" stroke-width="1.3"/>
<line x1="574.8" y1="104" x2="574.8" y2="135" stroke="#1f8ff5" stroke-width="1.3"/>
<line x1="568.4" y1="48.8" x2="581.2" y2="48.8" stroke="#1f8ff5" stroke-width="1.3"/>
<line x1="568.4" y1="135" x2="581.2" y2="135" stroke="#1f8ff5" stroke-width="1.3"/>
<rect x="563.4" y="81.3" width="22.8" height="22.7" fill="none" stroke="#1f8ff5" stroke-width="1.3"/>
<line x1="563.4" y1="93.6" x2="586.2" y2="93.6" stroke="#1f8ff5" stroke-width="1.3"/>
<circle cx="574.8" cy="34" r="1.3" fill="none" stroke="#1f8ff5" stroke-width="0.7"/>
<circle cx="574.8" cy="46.4" r="1.3" fill="none" stroke="#1f8ff5" stroke-width="0.7"/>
<line x1="532.7" y1="70.65" x2="532.7" y2="77.35" stroke="#111" stroke-width="1.1"/>
<line x1="529.8" y1="72.33" x2="535.6" y2="75.67" stroke="#111" stroke-width="1.1"/>
<line x1="535.6" y1="72.33" x2="529.8" y2="75.67" stroke="#111" stroke-width="1.1"/>
<line x1="574.8" y1="20.6" x2="574.8" y2="27" stroke="#9b6bd0" stroke-width="1.15"/>
<line x1="572.03" y1="22.2" x2="577.57" y2="25.4" stroke="#9b6bd0" stroke-width="1.15"/>
<line x1="577.57" y1="22.2" x2="572.03" y2="25.4" stroke="#9b6bd0" stroke-width="1.15"/>
<line x1="645.5" y1="35.5" x2="645.5" y2="150.8" stroke="#9c9c9c" stroke-width="0.85"/>
<line x1="645.5" y1="150.8" x2="788.3" y2="150.8" stroke="#9c9c9c" stroke-width="0.85"/>
<line x1="643.3" y1="129.5" x2="645.5" y2="129.5" stroke="#808080" stroke-width="0.8"/>
<text x="642.2" y="133.3" font-size="10.8" fill="#262626" color="#262626" stroke-width="0.22" font-weight="normal" text-anchor="end">5</text>
<line x1="643.3" y1="92.4" x2="645.5" y2="92.4" stroke="#808080" stroke-width="0.8"/>
<text x="642.2" y="96.2" font-size="10.8" fill="#262626" color="#262626" stroke-width="0.22" font-weight="normal" text-anchor="end">10</text>
<line x1="643.3" y1="55.3" x2="645.5" y2="55.3" stroke="#808080" stroke-width="0.8"/>
<text x="642.2" y="59.1" font-size="10.8" fill="#262626" color="#262626" stroke-width="0.22" font-weight="normal" text-anchor="end">15</text>
<line x1="665.2" y1="150.8" x2="665.2" y2="153" stroke="#808080" stroke-width="0.8"/>
<text x="665.2" y="162.1" font-size="10.6" fill="#262626" color="#262626" stroke-width="0.22" font-weight="normal" text-anchor="middle" textLength="20.6" lengthAdjust="spacingAndGlyphs">SST</text>
<line x1="717.3" y1="150.8" x2="717.3" y2="153" stroke="#808080" stroke-width="0.8"/>
<text x="717.3" y="162.1" font-size="10.6" fill="#262626" color="#262626" stroke-width="0.22" font-weight="normal" text-anchor="middle" textLength="14" lengthAdjust="spacingAndGlyphs">PV</text>
<line x1="768.5" y1="150.8" x2="768.5" y2="153" stroke="#808080" stroke-width="0.8"/>
<text x="768.5" y="162.1" font-size="10.6" fill="#262626" color="#262626" stroke-width="0.22" font-weight="normal" text-anchor="middle" textLength="17" lengthAdjust="spacingAndGlyphs">VIP</text>
<text x="625.4" y="92.8" font-size="10.4" fill="#262626" color="#262626" stroke-width="0.22" font-weight="normal" text-anchor="middle" textLength="100" lengthAdjust="spacingAndGlyphs" transform="rotate(-90 625.4 92.8)">Baseline Rate (Hz)</text>
<line x1="652" y1="118.8" x2="652" y2="122.2" stroke="#808080" stroke-width="1.5"/>
<line x1="652" y1="125" x2="652" y2="129" stroke="#808080" stroke-width="1.5"/>
<line x1="648.4" y1="118.8" x2="655.6" y2="118.8" stroke="#808080" stroke-width="1.5"/>
<line x1="648.4" y1="129" x2="655.6" y2="129" stroke="#808080" stroke-width="1.5"/>
<rect x="645.8" y="122.2" width="12.4" height="2.8" fill="none" stroke="#808080" stroke-width="1.5"/>
<line x1="645.8" y1="123.6" x2="658.2" y2="123.6" stroke="#808080" stroke-width="1.5"/>
<circle cx="652" cy="118.3" r="1.3" fill="none" stroke="#808080" stroke-width="0.7"/>
<circle cx="652" cy="129.5" r="1.3" fill="none" stroke="#808080" stroke-width="0.7"/>
<line x1="665.2" y1="103" x2="665.2" y2="107.8" stroke="#9b6bd0" stroke-width="1.5"/>
<line x1="665.2" y1="111.8" x2="665.2" y2="116.3" stroke="#9b6bd0" stroke-width="1.5"/>
<line x1="661.6" y1="103" x2="668.8" y2="103" stroke="#9b6bd0" stroke-width="1.5"/>
<line x1="661.6" y1="116.3" x2="668.8" y2="116.3" stroke="#9b6bd0" stroke-width="1.5"/>
<rect x="659" y="107.8" width="12.4" height="4" fill="none" stroke="#9b6bd0" stroke-width="1.5"/>
<line x1="659" y1="109.8" x2="671.4" y2="109.8" stroke="#9b6bd0" stroke-width="1.5"/>
<line x1="677.9" y1="121.9" x2="677.9" y2="125" stroke="#1f8ff5" stroke-width="1.5"/>
<line x1="677.9" y1="127.8" x2="677.9" y2="130" stroke="#1f8ff5" stroke-width="1.5"/>
<line x1="674.3" y1="121.9" x2="681.5" y2="121.9" stroke="#1f8ff5" stroke-width="1.5"/>
<line x1="674.3" y1="130" x2="681.5" y2="130" stroke="#1f8ff5" stroke-width="1.5"/>
<rect x="671.7" y="125" width="12.4" height="2.8" fill="none" stroke="#1f8ff5" stroke-width="1.5"/>
<line x1="671.7" y1="126.4" x2="684.1" y2="126.4" stroke="#1f8ff5" stroke-width="1.5"/>
<line x1="665.2" y1="88.05" x2="665.2" y2="94.75" stroke="#111" stroke-width="1.1"/>
<line x1="662.3" y1="89.73" x2="668.1" y2="93.08" stroke="#111" stroke-width="1.1"/>
<line x1="668.1" y1="89.73" x2="662.3" y2="93.08" stroke="#111" stroke-width="1.1"/>
<line x1="677.9" y1="93.95" x2="677.9" y2="100.65" stroke="#111" stroke-width="1.1"/>
<line x1="675" y1="95.62" x2="680.8" y2="98.97" stroke="#111" stroke-width="1.1"/>
<line x1="680.8" y1="95.62" x2="675" y2="98.97" stroke="#111" stroke-width="1.1"/>
<line x1="678" y1="107.3" x2="678" y2="113.7" stroke="#9b6bd0" stroke-width="1.15"/>
<line x1="675.23" y1="108.9" x2="680.77" y2="112.1" stroke="#9b6bd0" stroke-width="1.15"/>
<line x1="680.77" y1="108.9" x2="675.23" y2="112.1" stroke="#9b6bd0" stroke-width="1.15"/>
<line x1="704" y1="84.7" x2="704" y2="89.8" stroke="#808080" stroke-width="1.5"/>
<line x1="704" y1="95.4" x2="704" y2="100" stroke="#808080" stroke-width="1.5"/>
<line x1="700.4" y1="84.7" x2="707.6" y2="84.7" stroke="#808080" stroke-width="1.5"/>
<line x1="700.4" y1="100" x2="707.6" y2="100" stroke="#808080" stroke-width="1.5"/>
<rect x="697.8" y="89.8" width="12.4" height="5.6" fill="none" stroke="#808080" stroke-width="1.5"/>
<line x1="697.8" y1="92.6" x2="710.2" y2="92.6" stroke="#808080" stroke-width="1.5"/>
<circle cx="704" cy="81.7" r="1.3" fill="none" stroke="#808080" stroke-width="0.7"/>
<line x1="717.2" y1="40.3" x2="717.2" y2="44.6" stroke="#9b6bd0" stroke-width="1.5"/>
<line x1="717.2" y1="51.7" x2="717.2" y2="59.3" stroke="#9b6bd0" stroke-width="1.5"/>
<line x1="713.6" y1="40.3" x2="720.8" y2="40.3" stroke="#9b6bd0" stroke-width="1.5"/>
<line x1="713.6" y1="59.3" x2="720.8" y2="59.3" stroke="#9b6bd0" stroke-width="1.5"/>
<rect x="711" y="44.6" width="12.4" height="7.1" fill="none" stroke="#9b6bd0" stroke-width="1.5"/>
<line x1="711" y1="47.4" x2="723.4" y2="47.4" stroke="#9b6bd0" stroke-width="1.5"/>
<line x1="729.8" y1="78.9" x2="729.8" y2="83.5" stroke="#1f8ff5" stroke-width="1.5"/>
<line x1="729.8" y1="89.8" x2="729.8" y2="95.4" stroke="#1f8ff5" stroke-width="1.5"/>
<line x1="726.2" y1="78.9" x2="733.4" y2="78.9" stroke="#1f8ff5" stroke-width="1.5"/>
<line x1="726.2" y1="95.4" x2="733.4" y2="95.4" stroke="#1f8ff5" stroke-width="1.5"/>
<rect x="723.6" y="83.5" width="12.4" height="6.3" fill="none" stroke="#1f8ff5" stroke-width="1.5"/>
<line x1="723.6" y1="86.8" x2="736" y2="86.8" stroke="#1f8ff5" stroke-width="1.5"/>
<line x1="717.2" y1="26.85" x2="717.2" y2="33.55" stroke="#111" stroke-width="1.1"/>
<line x1="714.3" y1="28.52" x2="720.1" y2="31.88" stroke="#111" stroke-width="1.1"/>
<line x1="720.1" y1="28.52" x2="714.3" y2="31.88" stroke="#111" stroke-width="1.1"/>
<line x1="729.8" y1="50.95" x2="729.8" y2="57.65" stroke="#111" stroke-width="1.1"/>
<line x1="726.9" y1="52.62" x2="732.7" y2="55.97" stroke="#111" stroke-width="1.1"/>
<line x1="732.7" y1="52.62" x2="726.9" y2="55.97" stroke="#111" stroke-width="1.1"/>
<line x1="729.8" y1="63.8" x2="729.8" y2="70.2" stroke="#9b6bd0" stroke-width="1.15"/>
<line x1="727.03" y1="65.4" x2="732.57" y2="68.6" stroke="#9b6bd0" stroke-width="1.15"/>
<line x1="732.57" y1="65.4" x2="727.03" y2="68.6" stroke="#9b6bd0" stroke-width="1.15"/>
<line x1="755.8" y1="134.6" x2="755.8" y2="138.9" stroke="#808080" stroke-width="1.5"/>
<line x1="755.8" y1="143" x2="755.8" y2="146" stroke="#808080" stroke-width="1.5"/>
<line x1="752.2" y1="134.6" x2="759.4" y2="134.6" stroke="#808080" stroke-width="1.5"/>
<line x1="752.2" y1="146" x2="759.4" y2="146" stroke="#808080" stroke-width="1.5"/>
<rect x="749.6" y="138.9" width="12.4" height="4.1" fill="none" stroke="#808080" stroke-width="1.5"/>
<line x1="749.6" y1="141" x2="762" y2="141" stroke="#808080" stroke-width="1.5"/>
<circle cx="755.8" cy="133" r="1.3" fill="none" stroke="#808080" stroke-width="0.7"/>
<line x1="768.5" y1="104.9" x2="768.5" y2="109.2" stroke="#9b6bd0" stroke-width="1.5"/>
<line x1="768.5" y1="114.8" x2="768.5" y2="120.6" stroke="#9b6bd0" stroke-width="1.5"/>
<line x1="764.9" y1="104.9" x2="772.1" y2="104.9" stroke="#9b6bd0" stroke-width="1.5"/>
<line x1="764.9" y1="120.6" x2="772.1" y2="120.6" stroke="#9b6bd0" stroke-width="1.5"/>
<rect x="762.3" y="109.2" width="12.4" height="5.6" fill="none" stroke="#9b6bd0" stroke-width="1.5"/>
<line x1="762.3" y1="112.2" x2="774.7" y2="112.2" stroke="#9b6bd0" stroke-width="1.5"/>
<circle cx="768.5" cy="121.9" r="1.3" fill="none" stroke="#9b6bd0" stroke-width="0.7"/>
<line x1="781.7" y1="127" x2="781.7" y2="130.3" stroke="#1f8ff5" stroke-width="1.5"/>
<line x1="781.7" y1="134" x2="781.7" y2="137" stroke="#1f8ff5" stroke-width="1.5"/>
<line x1="778.1" y1="127" x2="785.3" y2="127" stroke="#1f8ff5" stroke-width="1.5"/>
<line x1="778.1" y1="137" x2="785.3" y2="137" stroke="#1f8ff5" stroke-width="1.5"/>
<rect x="775.5" y="130.3" width="12.4" height="3.7" fill="none" stroke="#1f8ff5" stroke-width="1.5"/>
<line x1="775.5" y1="132.2" x2="787.9" y2="132.2" stroke="#1f8ff5" stroke-width="1.5"/>
<circle cx="781.7" cy="123.9" r="1.3" fill="none" stroke="#1f8ff5" stroke-width="0.7"/>
<line x1="768.5" y1="90.65" x2="768.5" y2="97.35" stroke="#111" stroke-width="1.1"/>
<line x1="765.6" y1="92.33" x2="771.4" y2="95.67" stroke="#111" stroke-width="1.1"/>
<line x1="771.4" y1="92.33" x2="765.6" y2="95.67" stroke="#111" stroke-width="1.1"/>
<line x1="781.7" y1="95.65" x2="781.7" y2="102.35" stroke="#111" stroke-width="1.1"/>
<line x1="778.8" y1="97.33" x2="784.6" y2="100.67" stroke="#111" stroke-width="1.1"/>
<line x1="784.6" y1="97.33" x2="778.8" y2="100.67" stroke="#111" stroke-width="1.1"/>
<line x1="781.7" y1="109" x2="781.7" y2="115.4" stroke="#9b6bd0" stroke-width="1.15"/>
<line x1="778.93" y1="110.6" x2="784.47" y2="113.8" stroke="#9b6bd0" stroke-width="1.15"/>
<line x1="784.47" y1="110.6" x2="778.93" y2="113.8" stroke="#9b6bd0" stroke-width="1.15"/>
<rect x="248" y="186.4" width="17" height="10.6" fill="#c4c4c4" stroke="none" stroke-width="1"/>
<rect x="265" y="186.4" width="16" height="10.6" fill="#9a9a9a" stroke="none" stroke-width="1"/>
<text x="284.4" y="196" font-size="10.2" fill="#262626" color="#262626" stroke-width="0.22" font-weight="normal" text-anchor="start" textLength="108.6" lengthAdjust="spacingAndGlyphs">Failed/False Detection</text>
<text x="221.5" y="263.7" font-size="10.2" fill="#262626" color="#262626" stroke-width="0.22" font-weight="normal" text-anchor="middle" textLength="52.5" lengthAdjust="spacingAndGlyphs" transform="rotate(-90 221.5 263.7)">Proportion</text>
<text x="246.8" y="329" font-size="10.2" fill="#262626" color="#262626" stroke-width="0.22" font-weight="normal" text-anchor="end" textLength="21.8" lengthAdjust="spacingAndGlyphs">0.00</text>
<text x="246.8" y="305.38" font-size="10.2" fill="#262626" color="#262626" stroke-width="0.22" font-weight="normal" text-anchor="end" textLength="21.8" lengthAdjust="spacingAndGlyphs">0.25</text>
<text x="246.8" y="281.75" font-size="10.2" fill="#262626" color="#262626" stroke-width="0.22" font-weight="normal" text-anchor="end" textLength="21.8" lengthAdjust="spacingAndGlyphs">0.50</text>
<text x="246.8" y="258.12" font-size="10.2" fill="#262626" color="#262626" stroke-width="0.22" font-weight="normal" text-anchor="end" textLength="21.8" lengthAdjust="spacingAndGlyphs">0.75</text>
<text x="246.8" y="234.5" font-size="10.2" fill="#262626" color="#262626" stroke-width="0.22" font-weight="normal" text-anchor="end" textLength="21.8" lengthAdjust="spacingAndGlyphs">1.00</text>
<text x="246.8" y="210.87" font-size="10.2" fill="#262626" color="#262626" stroke-width="0.22" font-weight="normal" text-anchor="end" textLength="21.8" lengthAdjust="spacingAndGlyphs">1.25</text>
<text x="336" y="348.4" font-size="10.2" fill="#262626" color="#262626" stroke-width="0.22" font-weight="normal" text-anchor="start" textLength="79.3" lengthAdjust="spacingAndGlyphs">Spike Rate (Hz)</text>
<rect x="250" y="200.5" width="78.7" height="124.9" fill="none" stroke="#9a9a9a" stroke-width="1"/>
<line x1="250" y1="325.4" x2="250" y2="327.8" stroke="#9c9c9c" stroke-width="0.8"/>
<text x="250" y="337.2" font-size="10.2" fill="#262626" color="#262626" stroke-width="0.22" font-weight="normal" text-anchor="middle" textLength="15.5" lengthAdjust="spacingAndGlyphs">0.0</text>
<line x1="289.35" y1="325.4" x2="289.35" y2="327.8" stroke="#9c9c9c" stroke-width="0.8"/>
<text x="289.35" y="337.2" font-size="10.2" fill="#262626" color="#262626" stroke-width="0.22" font-weight="normal" text-anchor="middle" textLength="15.5" lengthAdjust="spacingAndGlyphs">2.5</text>
<line x1="328.7" y1="325.4" x2="328.7" y2="327.8" stroke="#9c9c9c" stroke-width="0.8"/>
<text x="328.7" y="337.2" font-size="10.2" fill="#262626" color="#262626" stroke-width="0.22" font-weight="normal" text-anchor="middle" textLength="15.5" lengthAdjust="spacingAndGlyphs">5.0</text>
<line x1="247.5" y1="325.4" x2="250" y2="325.4" stroke="#9c9c9c" stroke-width="0.8"/>
<line x1="247.5" y1="301.77" x2="250" y2="301.77" stroke="#9c9c9c" stroke-width="0.8"/>
<line x1="247.5" y1="278.15" x2="250" y2="278.15" stroke="#9c9c9c" stroke-width="0.8"/>
<line x1="247.5" y1="254.52" x2="250" y2="254.52" stroke="#9c9c9c" stroke-width="0.8"/>
<line x1="247.5" y1="230.9" x2="250" y2="230.9" stroke="#9c9c9c" stroke-width="0.8"/>
<line x1="247.5" y1="207.27" x2="250" y2="207.27" stroke="#9c9c9c" stroke-width="0.8"/>
<polygon points="250,325.4 250,325.4 250.31,325.4 250.63,325.4 250.94,325.4 251.26,325.4 251.57,325.4 251.89,325.4 252.2,325.4 252.52,325.4 252.83,325.4 253.15,325.4 253.46,325.4 253.78,325.4 254.09,325.4 254.41,325.4 254.72,325.4 255.04,325.4 255.35,325.4 255.67,325.4 255.98,325.39 256.3,325.39 256.61,325.39 256.93,325.39 257.24,325.39 257.56,325.39 257.87,325.38 258.18,325.38 258.5,325.38 258.81,325.37 259.13,325.36 259.44,325.36 259.76,325.35 260.07,325.34 260.39,325.33 260.7,325.32 261.02,325.3 261.33,325.29 261.65,325.27 261.96,325.24 262.28,325.22 262.59,325.19 262.91,325.15 263.22,325.11 263.54,325.06 263.85,325.01 264.17,324.95 264.48,324.88 264.8,324.81 265.11,324.72 265.43,324.62 265.74,324.51 266.05,324.39 266.37,324.25 266.68,324.1 267,323.92 267.31,323.73 267.63,323.52 267.94,323.29 268.26,323.03 268.57,322.74 268.89,322.43 269.2,322.08 269.52,321.71 269.83,321.3 270.15,320.85 270.46,320.37 270.78,319.84 271.09,319.27 271.41,318.66 271.72,318 272.04,317.3 272.35,316.54 272.67,315.74 272.98,314.88 273.3,313.97 273.45,313.49 273.45,325.4" fill="#808080" fill-opacity="0.55"/>
<polygon points="273.45,325.4 273.45,313.47 273.61,313.97 273.92,314.91 274.24,315.79 274.55,316.61 274.87,317.37 275.18,318.07 275.5,318.72 275.81,319.33 276.13,319.88 276.44,320.4 276.76,320.87 277.07,321.3 277.39,321.7 277.7,322.06 278.02,322.39 278.33,322.69 278.65,322.97 278.96,323.22 279.28,323.45 279.59,323.66 279.91,323.84 280.22,324.01 280.54,324.16 280.85,324.3 281.17,324.42 281.48,324.53 281.79,324.63 282.11,324.72 282.42,324.8 282.74,324.87 283.05,324.94 283.37,324.99 283.68,325.04 284,325.09 284.31,325.13 284.63,325.16 284.94,325.19 285.26,325.22 285.57,325.24 285.89,325.26 286.2,325.28 286.52,325.3 286.83,325.31 287.15,325.32 287.46,325.33 287.78,325.34 288.09,325.35 288.41,325.36 288.72,325.36 289.04,325.37 289.35,325.37 289.66,325.38 289.98,325.38 290.29,325.38 290.61,325.39 290.92,325.39 291.24,325.39 291.55,325.39 291.87,325.39 292.18,325.39 292.5,325.39 292.81,325.4 293.13,325.4 293.44,325.4 293.76,325.4 294.07,325.4 294.39,325.4 294.7,325.4 295.02,325.4 295.33,325.4 295.65,325.4 295.96,325.4 296.28,325.4 296.59,325.4 296.91,325.4 297.22,325.4 297.53,325.4 297.85,325.4 298.16,325.4 298.48,325.4 298.79,325.4 299.11,325.4 299.42,325.4 299.74,325.4 300.05,325.4 300.37,325.4 300.68,325.4 301,325.4 301.31,325.4 301.63,325.4 301.94,325.4 302.26,325.4 302.57,325.4 302.89,325.4 303.2,325.4 303.52,325.4 303.83,325.4 304.15,325.4 304.46,325.4 304.78,325.4 305.09,325.4 305.4,325.4 305.72,325.4 306.03,325.4 306.35,325.4 306.66,325.4 306.98,325.4 307.29,325.4 307.61,325.4 307.92,325.4 308.24,325.4 308.55,325.4 308.87,325.4 309.18,325.4 309.5,325.4 309.81,325.4 310.13,325.4 310.44,325.4 310.76,325.4 311.07,325.4 311.39,325.4 311.7,325.4 312.02,325.4 312.33,325.4 312.65,325.4 312.96,325.4 313.27,325.4 313.59,325.4 313.9,325.4 314.22,325.4 314.53,325.4 314.85,325.4 315.16,325.4 315.48,325.4 315.79,325.4 316.11,325.4 316.42,325.4 316.74,325.4 317.05,325.4 317.37,325.4 317.68,325.4 318,325.4 318.31,325.4 318.63,325.4 318.94,325.4 319.26,325.4 319.57,325.4 319.89,325.4 320.2,325.4 320.52,325.4 320.83,325.4 321.14,325.4 321.46,325.4 321.77,325.4 322.09,325.4 322.4,325.4 322.72,325.4 323.03,325.4 323.35,325.4 323.66,325.4 323.98,325.4 324.29,325.4 324.61,325.4 324.92,325.4 325.24,325.4 325.55,325.4 325.87,325.4 326.18,325.4 326.5,325.4 326.81,325.4 327.13,325.4 327.44,325.4 327.76,325.4 328.07,325.4 328.39,325.4 328.7,325.4 328.7,325.4" fill="#808080" fill-opacity="0.85"/>
<polyline points="250,325.4 250.31,324.57 250.63,322.74 250.94,320.04 251.26,316.58 251.57,312.47 251.89,307.84 252.2,302.79 252.52,297.42 252.83,291.78 253.15,285.93 253.46,279.9 253.78,273.75 254.09,267.5 254.41,261.23 254.72,255 255.04,248.87 255.35,242.93 255.67,237.26 255.98,231.94 256.3,227.04 256.61,222.61 256.93,218.71 257.24,215.38 257.56,212.65 257.87,210.51 258.18,208.97 258.5,208.01 258.81,207.61 259.13,207.73 259.44,208.34 259.76,209.39 260.07,210.83 260.39,212.63 260.7,214.74 261.02,217.1 261.33,219.69 261.65,222.46 261.96,225.38 262.28,228.42 262.59,231.55 262.91,234.75 263.22,237.99 263.54,241.25 263.85,244.53 264.17,247.8 264.48,251.05 264.8,254.28 265.11,257.47 265.43,260.6 265.74,263.69 266.05,266.71 266.37,269.67 266.68,272.55 267,275.36 267.31,278.08 267.63,280.72 267.94,283.28 268.26,285.74 268.57,288.12 268.89,290.4 269.2,292.59 269.52,294.68 269.83,296.69 270.15,298.6 270.46,300.42 270.78,302.15 271.09,303.79 271.41,305.34 271.72,306.81 272.04,308.2 272.35,309.5 272.67,310.73 272.98,311.88 273.3,312.96 273.61,313.97 273.92,314.91 274.24,315.79 274.55,316.61 274.87,317.37 275.18,318.07 275.5,318.72 275.81,319.33 276.13,319.88 276.44,320.4 276.76,320.87 277.07,321.3 277.39,321.7 277.7,322.06 278.02,322.39 278.33,322.69 278.65,322.97 278.96,323.22 279.28,323.45 279.59,323.66 279.91,323.84 280.22,324.01 280.54,324.16 280.85,324.3 281.17,324.42 281.48,324.53 281.79,324.63 282.11,324.72 282.42,324.8 282.74,324.87 283.05,324.94 283.37,324.99 283.68,325.04 284,325.09 284.31,325.13 284.63,325.16 284.94,325.19 285.26,325.22 285.57,325.24 285.89,325.26 286.2,325.28 286.52,325.3 286.83,325.31 287.15,325.32 287.46,325.33 287.78,325.34 288.09,325.35 288.41,325.36 288.72,325.36 289.04,325.37 289.35,325.37 289.66,325.38 289.98,325.38 290.29,325.38 290.61,325.39 290.92,325.39 291.24,325.39 291.55,325.39 291.87,325.39 292.18,325.39 292.5,325.39 292.81,325.4 293.13,325.4 293.44,325.4 293.76,325.4 294.07,325.4 294.39,325.4 294.7,325.4 295.02,325.4 295.33,325.4 295.65,325.4 295.96,325.4 296.28,325.4 296.59,325.4 296.91,325.4 297.22,325.4 297.53,325.4 297.85,325.4 298.16,325.4 298.48,325.4 298.79,325.4 299.11,325.4 299.42,325.4 299.74,325.4 300.05,325.4 300.37,325.4 300.68,325.4 301,325.4 301.31,325.4 301.63,325.4 301.94,325.4 302.26,325.4 302.57,325.4 302.89,325.4 303.2,325.4 303.52,325.4 303.83,325.4 304.15,325.4 304.46,325.4 304.78,325.4 305.09,325.4 305.4,325.4 305.72,325.4 306.03,325.4 306.35,325.4 306.66,325.4 306.98,325.4 307.29,325.4 307.61,325.4 307.92,325.4 308.24,325.4 308.55,325.4 308.87,325.4 309.18,325.4 309.5,325.4 309.81,325.4 310.13,325.4 310.44,325.4 310.76,325.4 311.07,325.4 311.39,325.4 311.7,325.4 312.02,325.4 312.33,325.4 312.65,325.4 312.96,325.4 313.27,325.4 313.59,325.4 313.9,325.4 314.22,325.4 314.53,325.4 314.85,325.4 315.16,325.4 315.48,325.4 315.79,325.4 316.11,325.4 316.42,325.4 316.74,325.4 317.05,325.4 317.37,325.4 317.68,325.4 318,325.4 318.31,325.4 318.63,325.4 318.94,325.4 319.26,325.4 319.57,325.4 319.89,325.4 320.2,325.4 320.52,325.4 320.83,325.4 321.14,325.4 321.46,325.4 321.77,325.4 322.09,325.4 322.4,325.4 322.72,325.4 323.03,325.4 323.35,325.4 323.66,325.4 323.98,325.4 324.29,325.4 324.61,325.4 324.92,325.4 325.24,325.4 325.55,325.4 325.87,325.4 326.18,325.4 326.5,325.4 326.81,325.4 327.13,325.4 327.44,325.4 327.76,325.4 328.07,325.4 328.39,325.4 328.7,325.4" fill="none" stroke="#c0c0c0" stroke-width="1.3" stroke-dasharray="4,2.5"/>
<polyline points="250,325.4 250.31,325.4 250.63,325.4 250.94,325.4 251.26,325.4 251.57,325.4 251.89,325.4 252.2,325.4 252.52,325.4 252.83,325.4 253.15,325.4 253.46,325.4 253.78,325.4 254.09,325.4 254.41,325.4 254.72,325.4 255.04,325.4 255.35,325.4 255.67,325.4 255.98,325.39 256.3,325.39 256.61,325.39 256.93,325.39 257.24,325.39 257.56,325.39 257.87,325.38 258.18,325.38 258.5,325.38 258.81,325.37 259.13,325.36 259.44,325.36 259.76,325.35 260.07,325.34 260.39,325.33 260.7,325.32 261.02,325.3 261.33,325.29 261.65,325.27 261.96,325.24 262.28,325.22 262.59,325.19 262.91,325.15 263.22,325.11 263.54,325.06 263.85,325.01 264.17,324.95 264.48,324.88 264.8,324.81 265.11,324.72 265.43,324.62 265.74,324.51 266.05,324.39 266.37,324.25 266.68,324.1 267,323.92 267.31,323.73 267.63,323.52 267.94,323.29 268.26,323.03 268.57,322.74 268.89,322.43 269.2,322.08 269.52,321.71 269.83,321.3 270.15,320.85 270.46,320.37 270.78,319.84 271.09,319.27 271.41,318.66 271.72,318 272.04,317.3 272.35,316.54 272.67,315.74 272.98,314.88 273.3,313.97 273.61,313 273.92,311.98 274.24,310.9 274.55,309.77 274.87,308.58 275.18,307.34 275.5,306.05 275.81,304.7 276.13,303.3 276.44,301.85 276.76,300.35 277.07,298.81 277.39,297.23 277.7,295.62 278.02,293.96 278.33,292.28 278.65,290.58 278.96,288.85 279.28,287.11 279.59,285.37 279.91,283.61 280.22,281.87 280.54,280.13 280.85,278.4 281.17,276.7 281.48,275.02 281.79,273.38 282.11,271.78 282.42,270.23 282.74,268.73 283.05,267.29 283.37,265.91 283.68,264.61 284,263.38 284.31,262.23 284.63,261.17 284.94,260.2 285.26,259.32 285.57,258.53 285.89,257.85 286.2,257.26 286.52,256.78 286.83,256.4 287.15,256.13 287.46,255.96 287.78,255.9 288.09,255.94 288.41,256.08 288.72,256.33 289.04,256.67 289.35,257.11 289.66,257.64 289.98,258.26 290.29,258.97 290.61,259.77 290.92,260.63 291.24,261.58 291.55,262.59 291.87,263.67 292.18,264.81 292.5,266 292.81,267.24 293.13,268.53 293.44,269.85 293.76,271.21 294.07,272.61 294.39,274.02 294.7,275.46 295.02,276.91 295.33,278.37 295.65,279.84 295.96,281.32 296.28,282.79 296.59,284.26 296.91,285.72 297.22,287.17 297.53,288.61 297.85,290.02 298.16,291.42 298.48,292.8 298.79,294.15 299.11,295.48 299.42,296.77 299.74,298.04 300.05,299.28 300.37,300.48 300.68,301.66 301,302.8 301.31,303.9 301.63,304.97 301.94,306 302.26,307 302.57,307.96 302.89,308.89 303.2,309.78 303.52,310.64 303.83,311.46 304.15,312.25 304.46,313.01 304.78,313.73 305.09,314.42 305.4,315.08 305.72,315.7 306.03,316.3 306.35,316.87 306.66,317.41 306.98,317.92 307.29,318.4 307.61,318.86 307.92,319.29 308.24,319.7 308.55,320.09 308.87,320.46 309.18,320.8 309.5,321.12 309.81,321.43 310.13,321.71 310.44,321.98 310.76,322.23 311.07,322.47 311.39,322.69 311.7,322.89 312.02,323.09 312.33,323.26 312.65,323.43 312.96,323.59 313.27,323.73 313.59,323.87 313.9,323.99 314.22,324.11 314.53,324.21 314.85,324.31 315.16,324.4 315.48,324.49 315.79,324.57 316.11,324.64 316.42,324.71 316.74,324.77 317.05,324.82 317.37,324.87 317.68,324.92 318,324.97 318.31,325.01 318.63,325.04 318.94,325.08 319.26,325.11 319.57,325.13 319.89,325.16 320.2,325.18 320.52,325.2 320.83,325.22 321.14,325.24 321.46,325.26 321.77,325.27 322.09,325.28 322.4,325.3 322.72,325.31 323.03,325.32 323.35,325.32 323.66,325.33 323.98,325.34 324.29,325.35 324.61,325.35 324.92,325.36 325.24,325.36 325.55,325.37 325.87,325.37 326.18,325.37 326.5,325.38 326.81,325.38 327.13,325.38 327.44,325.38 327.76,325.39 328.07,325.39 328.39,325.39 328.7,325.39" fill="none" stroke="#808080" stroke-width="1.3"/>
<line x1="273.45" y1="200.5" x2="273.45" y2="325.4" stroke="#222" stroke-width="0.8" stroke-dasharray="1,1.2"/>
<rect x="337" y="200.5" width="79.2" height="124.9" fill="none" stroke="#9a9a9a" stroke-width="1"/>
<line x1="337" y1="325.4" x2="337" y2="327.8" stroke="#9c9c9c" stroke-width="0.8"/>
<line x1="376.6" y1="325.4" x2="376.6" y2="327.8" stroke="#9c9c9c" stroke-width="0.8"/>
<text x="376.6" y="337.2" font-size="10.2" fill="#262626" color="#262626" stroke-width="0.22" font-weight="normal" text-anchor="middle" textLength="15.5" lengthAdjust="spacingAndGlyphs">2.5</text>
<line x1="416.2" y1="325.4" x2="416.2" y2="327.8" stroke="#9c9c9c" stroke-width="0.8"/>
<text x="416.2" y="337.2" font-size="10.2" fill="#262626" color="#262626" stroke-width="0.22" font-weight="normal" text-anchor="middle" textLength="15.5" lengthAdjust="spacingAndGlyphs">5.0</text>
<line x1="334.5" y1="325.4" x2="337" y2="325.4" stroke="#9c9c9c" stroke-width="0.8"/>
<line x1="334.5" y1="301.77" x2="337" y2="301.77" stroke="#9c9c9c" stroke-width="0.8"/>
<line x1="334.5" y1="278.15" x2="337" y2="278.15" stroke="#9c9c9c" stroke-width="0.8"/>
<line x1="334.5" y1="254.52" x2="337" y2="254.52" stroke="#9c9c9c" stroke-width="0.8"/>
<line x1="334.5" y1="230.9" x2="337" y2="230.9" stroke="#9c9c9c" stroke-width="0.8"/>
<line x1="334.5" y1="207.27" x2="337" y2="207.27" stroke="#9c9c9c" stroke-width="0.8"/>
<polygon points="337,325.4 337,325.4 337.32,325.4 337.63,325.4 337.95,325.4 338.27,325.4 338.58,325.4 338.9,325.4 339.22,325.4 339.53,325.4 339.85,325.4 340.17,325.4 340.48,325.4 340.8,325.4 341.12,325.4 341.44,325.4 341.75,325.4 342.07,325.4 342.39,325.4 342.7,325.4 343.02,325.4 343.34,325.4 343.65,325.4 343.97,325.4 344.29,325.4 344.6,325.4 344.92,325.4 345.24,325.4 345.55,325.4 345.87,325.4 346.19,325.4 346.5,325.4 346.82,325.39 347.14,325.39 347.45,325.39 347.77,325.39 348.09,325.38 348.4,325.38 348.72,325.38 349.04,325.37 349.36,325.36 349.67,325.35 349.99,325.34 350.31,325.33 350.62,325.32 350.94,325.3 351.26,325.28 351.57,325.25 351.89,325.22 352.21,325.19 352.52,325.14 352.84,325.09 353.16,325.04 353.47,324.97 353.79,324.89 354.11,324.8 354.42,324.69 354.74,324.57 355.06,324.43 355.37,324.26 355.69,324.08 356.01,323.87 356.32,323.63 356.64,323.37 356.96,323.06 357.28,322.72 357.59,322.34 357.91,321.92 358.23,321.45 358.54,320.93 358.86,320.36 359.18,319.73 359.49,319.04 359.81,318.28 360.13,317.46 360.44,316.57 360.76,315.6 361.08,314.56 361.39,313.45 361.71,312.26 362.03,310.99 362.34,309.63 362.66,308.2 362.98,306.69 363.29,305.11 363.61,303.45 363.93,301.71 364.24,299.91 364.56,298.04 364.56,325.4" fill="#9b6bd0" fill-opacity="0.55"/>
<polygon points="364.56,325.4 364.56,298.55 364.88,300.14 365.2,301.67 365.51,303.13 365.83,304.52 366.15,305.86 366.46,307.13 366.78,308.33 367.1,309.48 367.41,310.57 367.73,311.6 368.05,312.58 368.36,313.5 368.68,314.37 369,315.18 369.31,315.95 369.63,316.67 369.95,317.35 370.26,317.98 370.58,318.57 370.9,319.12 371.21,319.64 371.53,320.12 371.85,320.56 372.16,320.97 372.48,321.35 372.8,321.71 373.12,322.04 373.43,322.34 373.75,322.62 374.07,322.87 374.38,323.11 374.7,323.32 375.02,323.52 375.33,323.7 375.65,323.87 375.97,324.02 376.28,324.15 376.6,324.28 376.92,324.39 377.23,324.5 377.55,324.59 377.87,324.68 378.18,324.75 378.5,324.82 378.82,324.88 379.13,324.94 379.45,324.99 379.77,325.04 380.08,325.08 380.4,325.11 380.72,325.15 381.04,325.18 381.35,325.2 381.67,325.23 381.99,325.25 382.3,325.27 382.62,325.28 382.94,325.3 383.25,325.31 383.57,325.32 383.89,325.33 384.2,325.34 384.52,325.35 384.84,325.35 385.15,325.36 385.47,325.36 385.79,325.37 386.1,325.37 386.42,325.38 386.74,325.38 387.05,325.38 387.37,325.39 387.69,325.39 388,325.39 388.32,325.39 388.64,325.39 388.96,325.39 389.27,325.39 389.59,325.39 389.91,325.4 390.22,325.4 390.54,325.4 390.86,325.4 391.17,325.4 391.49,325.4 391.81,325.4 392.12,325.4 392.44,325.4 392.76,325.4 393.07,325.4 393.39,325.4 393.71,325.4 394.02,325.4 394.34,325.4 394.66,325.4 394.97,325.4 395.29,325.4 395.61,325.4 395.92,325.4 396.24,325.4 396.56,325.4 396.88,325.4 397.19,325.4 397.51,325.4 397.83,325.4 398.14,325.4 398.46,325.4 398.78,325.4 399.09,325.4 399.41,325.4 399.73,325.4 400.04,325.4 400.36,325.4 400.68,325.4 400.99,325.4 401.31,325.4 401.63,325.4 401.94,325.4 402.26,325.4 402.58,325.4 402.89,325.4 403.21,325.4 403.53,325.4 403.84,325.4 404.16,325.4 404.48,325.4 404.8,325.4 405.11,325.4 405.43,325.4 405.75,325.4 406.06,325.4 406.38,325.4 406.7,325.4 407.01,325.4 407.33,325.4 407.65,325.4 407.96,325.4 408.28,325.4 408.6,325.4 408.91,325.4 409.23,325.4 409.55,325.4 409.86,325.4 410.18,325.4 410.5,325.4 410.81,325.4 411.13,325.4 411.45,325.4 411.76,325.4 412.08,325.4 412.4,325.4 412.72,325.4 413.03,325.4 413.35,325.4 413.67,325.4 413.98,325.4 414.3,325.4 414.62,325.4 414.93,325.4 415.25,325.4 415.57,325.4 415.88,325.4 416.2,325.4 416.2,325.4" fill="#9b6bd0" fill-opacity="0.85"/>
<polyline points="337,325.4 337.32,325.35 337.63,325.25 337.95,325.09 338.27,324.89 338.58,324.63 338.9,324.33 339.22,323.99 339.53,323.59 339.85,323.14 340.17,322.63 340.48,322.06 340.8,321.4 341.12,320.66 341.44,319.82 341.75,318.88 342.07,317.82 342.39,316.63 342.7,315.31 343.02,313.84 343.34,312.23 343.65,310.46 343.97,308.54 344.29,306.46 344.6,304.22 344.92,301.83 345.24,299.28 345.55,296.59 345.87,293.77 346.19,290.83 346.5,287.78 346.82,284.64 347.14,281.42 347.45,278.16 347.77,274.86 348.09,271.56 348.4,268.28 348.72,265.04 349.04,261.88 349.36,258.81 349.67,255.86 349.99,253.05 350.31,250.42 350.62,247.96 350.94,245.72 351.26,243.69 351.57,241.9 351.89,240.36 352.21,239.06 352.52,238.03 352.84,237.26 353.16,236.75 353.47,236.5 353.79,236.5 354.11,236.74 354.42,237.23 354.74,237.93 355.06,238.85 355.37,239.97 355.69,241.27 356.01,242.74 356.32,244.36 356.64,246.11 356.96,247.99 357.28,249.98 357.59,252.05 357.91,254.19 358.23,256.4 358.54,258.66 358.86,260.95 359.18,263.26 359.49,265.59 359.81,267.91 360.13,270.23 360.44,272.54 360.76,274.82 361.08,277.07 361.39,279.28 361.71,281.45 362.03,283.58 362.34,285.65 362.66,287.68 362.98,289.64 363.29,291.55 363.61,293.39 363.93,295.18 364.24,296.9 364.56,298.55 364.88,300.14 365.2,301.67 365.51,303.13 365.83,304.52 366.15,305.86 366.46,307.13 366.78,308.33 367.1,309.48 367.41,310.57 367.73,311.6 368.05,312.58 368.36,313.5 368.68,314.37 369,315.18 369.31,315.95 369.63,316.67 369.95,317.35 370.26,317.98 370.58,318.57 370.9,319.12 371.21,319.64 371.53,320.12 371.85,320.56 372.16,320.97 372.48,321.35 372.8,321.71 373.12,322.04 373.43,322.34 373.75,322.62 374.07,322.87 374.38,323.11 374.7,323.32 375.02,323.52 375.33,323.7 375.65,323.87 375.97,324.02 376.28,324.15 376.6,324.28 376.92,324.39 377.23,324.5 377.55,324.59 377.87,324.68 378.18,324.75 378.5,324.82 378.82,324.88 379.13,324.94 379.45,324.99 379.77,325.04 380.08,325.08 380.4,325.11 380.72,325.15 381.04,325.18 381.35,325.2 381.67,325.23 381.99,325.25 382.3,325.27 382.62,325.28 382.94,325.3 383.25,325.31 383.57,325.32 383.89,325.33 384.2,325.34 384.52,325.35 384.84,325.35 385.15,325.36 385.47,325.36 385.79,325.37 386.1,325.37 386.42,325.38 386.74,325.38 387.05,325.38 387.37,325.39 387.69,325.39 388,325.39 388.32,325.39 388.64,325.39 388.96,325.39 389.27,325.39 389.59,325.39 389.91,325.4 390.22,325.4 390.54,325.4 390.86,325.4 391.17,325.4 391.49,325.4 391.81,325.4 392.12,325.4 392.44,325.4 392.76,325.4 393.07,325.4 393.39,325.4 393.71,325.4 394.02,325.4 394.34,325.4 394.66,325.4 394.97,325.4 395.29,325.4 395.61,325.4 395.92,325.4 396.24,325.4 396.56,325.4 396.88,325.4 397.19,325.4 397.51,325.4 397.83,325.4 398.14,325.4 398.46,325.4 398.78,325.4 399.09,325.4 399.41,325.4 399.73,325.4 400.04,325.4 400.36,325.4 400.68,325.4 400.99,325.4 401.31,325.4 401.63,325.4 401.94,325.4 402.26,325.4 402.58,325.4 402.89,325.4 403.21,325.4 403.53,325.4 403.84,325.4 404.16,325.4 404.48,325.4 404.8,325.4 405.11,325.4 405.43,325.4 405.75,325.4 406.06,325.4 406.38,325.4 406.7,325.4 407.01,325.4 407.33,325.4 407.65,325.4 407.96,325.4 408.28,325.4 408.6,325.4 408.91,325.4 409.23,325.4 409.55,325.4 409.86,325.4 410.18,325.4 410.5,325.4 410.81,325.4 411.13,325.4 411.45,325.4 411.76,325.4 412.08,325.4 412.4,325.4 412.72,325.4 413.03,325.4 413.35,325.4 413.67,325.4 413.98,325.4 414.3,325.4 414.62,325.4 414.93,325.4 415.25,325.4 415.57,325.4 415.88,325.4 416.2,325.4" fill="none" stroke="#c3a8e6" stroke-width="1.3" stroke-dasharray="4,2.5"/>
<polyline points="337,325.4 337.32,325.4 337.63,325.4 337.95,325.4 338.27,325.4 338.58,325.4 338.9,325.4 339.22,325.4 339.53,325.4 339.85,325.4 340.17,325.4 340.48,325.4 340.8,325.4 341.12,325.4 341.44,325.4 341.75,325.4 342.07,325.4 342.39,325.4 342.7,325.4 343.02,325.4 343.34,325.4 343.65,325.4 343.97,325.4 344.29,325.4 344.6,325.4 344.92,325.4 345.24,325.4 345.55,325.4 345.87,325.4 346.19,325.4 346.5,325.4 346.82,325.39 347.14,325.39 347.45,325.39 347.77,325.39 348.09,325.38 348.4,325.38 348.72,325.38 349.04,325.37 349.36,325.36 349.67,325.35 349.99,325.34 350.31,325.33 350.62,325.32 350.94,325.3 351.26,325.28 351.57,325.25 351.89,325.22 352.21,325.19 352.52,325.14 352.84,325.09 353.16,325.04 353.47,324.97 353.79,324.89 354.11,324.8 354.42,324.69 354.74,324.57 355.06,324.43 355.37,324.26 355.69,324.08 356.01,323.87 356.32,323.63 356.64,323.37 356.96,323.06 357.28,322.72 357.59,322.34 357.91,321.92 358.23,321.45 358.54,320.93 358.86,320.36 359.18,319.73 359.49,319.04 359.81,318.28 360.13,317.46 360.44,316.57 360.76,315.6 361.08,314.56 361.39,313.45 361.71,312.26 362.03,310.99 362.34,309.63 362.66,308.2 362.98,306.69 363.29,305.11 363.61,303.45 363.93,301.71 364.24,299.91 364.56,298.04 364.88,296.11 365.2,294.13 365.51,292.1 365.83,290.03 366.15,287.92 366.46,285.79 366.78,283.64 367.1,281.48 367.41,279.32 367.73,277.17 368.05,275.04 368.36,272.93 368.68,270.87 369,268.85 369.31,266.89 369.63,265 369.95,263.18 370.26,261.45 370.58,259.8 370.9,258.25 371.21,256.81 371.53,255.47 371.85,254.25 372.16,253.15 372.48,252.16 372.8,251.3 373.12,250.57 373.43,249.96 373.75,249.48 374.07,249.13 374.38,248.9 374.7,248.79 375.02,248.8 375.33,248.93 375.65,249.17 375.97,249.52 376.28,249.98 376.6,250.53 376.92,251.18 377.23,251.92 377.55,252.75 377.87,253.65 378.18,254.62 378.5,255.66 378.82,256.76 379.13,257.92 379.45,259.12 379.77,260.37 380.08,261.66 380.4,262.99 380.72,264.34 381.04,265.72 381.35,267.12 381.67,268.54 381.99,269.97 382.3,271.41 382.62,272.85 382.94,274.3 383.25,275.74 383.57,277.18 383.89,278.61 384.2,280.03 384.52,281.45 384.84,282.84 385.15,284.23 385.47,285.59 385.79,286.94 386.1,288.26 386.42,289.57 386.74,290.85 387.05,292.11 387.37,293.34 387.69,294.55 388,295.73 388.32,296.89 388.64,298.02 388.96,299.12 389.27,300.19 389.59,301.23 389.91,302.25 390.22,303.23 390.54,304.19 390.86,305.12 391.17,306.02 391.49,306.9 391.81,307.74 392.12,308.56 392.44,309.35 392.76,310.11 393.07,310.85 393.39,311.55 393.71,312.24 394.02,312.89 394.34,313.52 394.66,314.13 394.97,314.71 395.29,315.27 395.61,315.81 395.92,316.32 396.24,316.81 396.56,317.28 396.88,317.73 397.19,318.16 397.51,318.57 397.83,318.96 398.14,319.33 398.46,319.68 398.78,320.02 399.09,320.34 399.41,320.64 399.73,320.93 400.04,321.2 400.36,321.46 400.68,321.71 400.99,321.94 401.31,322.16 401.63,322.37 401.94,322.56 402.26,322.75 402.58,322.92 402.89,323.09 403.21,323.24 403.53,323.39 403.84,323.53 404.16,323.66 404.48,323.78 404.8,323.89 405.11,324 405.43,324.1 405.75,324.19 406.06,324.28 406.38,324.36 406.7,324.44 407.01,324.51 407.33,324.57 407.65,324.64 407.96,324.69 408.28,324.75 408.6,324.8 408.91,324.85 409.23,324.89 409.55,324.93 409.86,324.97 410.18,325 410.5,325.03 410.81,325.06 411.13,325.09 411.45,325.12 411.76,325.14 412.08,325.16 412.4,325.18 412.72,325.2 413.03,325.22 413.35,325.23 413.67,325.25 413.98,325.26 414.3,325.27 414.62,325.28 414.93,325.29 415.25,325.3 415.57,325.31 415.88,325.32 416.2,325.33" fill="none" stroke="#9b6bd0" stroke-width="1.3"/>
<line x1="364.56" y1="200.5" x2="364.56" y2="325.4" stroke="#222" stroke-width="0.8" stroke-dasharray="1,1.2"/>
<rect x="424" y="200.5" width="78.4" height="124.9" fill="none" stroke="#9a9a9a" stroke-width="1"/>
<line x1="424" y1="325.4" x2="424" y2="327.8" stroke="#9c9c9c" stroke-width="0.8"/>
<line x1="463.2" y1="325.4" x2="463.2" y2="327.8" stroke="#9c9c9c" stroke-width="0.8"/>
<text x="463.2" y="337.2" font-size="10.2" fill="#262626" color="#262626" stroke-width="0.22" font-weight="normal" text-anchor="middle" textLength="15.5" lengthAdjust="spacingAndGlyphs">2.5</text>
<line x1="502.4" y1="325.4" x2="502.4" y2="327.8" stroke="#9c9c9c" stroke-width="0.8"/>
<text x="502.4" y="337.2" font-size="10.2" fill="#262626" color="#262626" stroke-width="0.22" font-weight="normal" text-anchor="middle" textLength="15.5" lengthAdjust="spacingAndGlyphs">5.0</text>
<line x1="421.5" y1="325.4" x2="424" y2="325.4" stroke="#9c9c9c" stroke-width="0.8"/>
<line x1="421.5" y1="301.77" x2="424" y2="301.77" stroke="#9c9c9c" stroke-width="0.8"/>
<line x1="421.5" y1="278.15" x2="424" y2="278.15" stroke="#9c9c9c" stroke-width="0.8"/>
<line x1="421.5" y1="254.52" x2="424" y2="254.52" stroke="#9c9c9c" stroke-width="0.8"/>
<line x1="421.5" y1="230.9" x2="424" y2="230.9" stroke="#9c9c9c" stroke-width="0.8"/>
<line x1="421.5" y1="207.27" x2="424" y2="207.27" stroke="#9c9c9c" stroke-width="0.8"/>
<polygon points="424,325.4 424,325.4 424.31,325.4 424.63,325.4 424.94,325.4 425.25,325.4 425.57,325.4 425.88,325.4 426.2,325.4 426.51,325.4 426.82,325.4 427.14,325.4 427.45,325.4 427.76,325.4 428.08,325.4 428.39,325.4 428.7,325.4 429.02,325.39 429.33,325.39 429.64,325.39 429.96,325.39 430.27,325.39 430.59,325.38 430.9,325.38 431.21,325.38 431.53,325.37 431.84,325.37 432.15,325.36 432.47,325.35 432.78,325.35 433.09,325.34 433.41,325.32 433.72,325.31 434.04,325.29 434.35,325.27 434.66,325.25 434.98,325.23 435.29,325.2 435.6,325.16 435.92,325.13 436.23,325.08 436.54,325.03 436.86,324.97 437.17,324.91 437.48,324.83 437.8,324.75 438.11,324.65 438.43,324.54 438.74,324.42 439.05,324.29 439.37,324.14 439.68,323.97 439.99,323.78 440.31,323.57 440.62,323.34 440.93,323.08 441.25,322.8 441.56,322.49 441.88,322.15 442.19,321.77 442.5,321.37 442.82,320.92 443.13,320.44 443.44,319.92 443.76,319.35 444.07,318.75 444.38,318.09 444.7,317.39 445.01,316.64 445.32,315.84 445.64,314.98 445.95,314.08 446.27,313.12 446.58,312.1 446.58,325.4" fill="#1f8ff5" fill-opacity="0.55"/>
<polygon points="446.58,325.4 446.58,313.04 446.89,314.08 447.21,315.05 447.52,315.96 447.83,316.8 448.15,317.58 448.46,318.29 448.77,318.96 449.09,319.56 449.4,320.13 449.72,320.64 450.03,321.11 450.34,321.54 450.66,321.93 450.97,322.29 451.28,322.61 451.6,322.91 451.91,323.18 452.22,323.42 452.54,323.64 452.85,323.83 453.16,324.01 453.48,324.17 453.79,324.31 454.11,324.44 454.42,324.55 454.73,324.65 455.05,324.74 455.36,324.82 455.67,324.9 455.99,324.96 456.3,325.01 456.61,325.06 456.93,325.11 457.24,325.15 457.56,325.18 457.87,325.21 458.18,325.23 458.5,325.26 458.81,325.28 459.12,325.29 459.44,325.31 459.75,325.32 460.06,325.33 460.38,325.34 460.69,325.35 461,325.36 461.32,325.36 461.63,325.37 461.95,325.37 462.26,325.38 462.57,325.38 462.89,325.38 463.2,325.39 463.51,325.39 463.83,325.39 464.14,325.39 464.45,325.39 464.77,325.39 465.08,325.4 465.4,325.4 465.71,325.4 466.02,325.4 466.34,325.4 466.65,325.4 466.96,325.4 467.28,325.4 467.59,325.4 467.9,325.4 468.22,325.4 468.53,325.4 468.84,325.4 469.16,325.4 469.47,325.4 469.79,325.4 470.1,325.4 470.41,325.4 470.73,325.4 471.04,325.4 471.35,325.4 471.67,325.4 471.98,325.4 472.29,325.4 472.61,325.4 472.92,325.4 473.24,325.4 473.55,325.4 473.86,325.4 474.18,325.4 474.49,325.4 474.8,325.4 475.12,325.4 475.43,325.4 475.74,325.4 476.06,325.4 476.37,325.4 476.68,325.4 477,325.4 477.31,325.4 477.63,325.4 477.94,325.4 478.25,325.4 478.57,325.4 478.88,325.4 479.19,325.4 479.51,325.4 479.82,325.4 480.13,325.4 480.45,325.4 480.76,325.4 481.08,325.4 481.39,325.4 481.7,325.4 482.02,325.4 482.33,325.4 482.64,325.4 482.96,325.4 483.27,325.4 483.58,325.4 483.9,325.4 484.21,325.4 484.52,325.4 484.84,325.4 485.15,325.4 485.47,325.4 485.78,325.4 486.09,325.4 486.41,325.4 486.72,325.4 487.03,325.4 487.35,325.4 487.66,325.4 487.97,325.4 488.29,325.4 488.6,325.4 488.92,325.4 489.23,325.4 489.54,325.4 489.86,325.4 490.17,325.4 490.48,325.4 490.8,325.4 491.11,325.4 491.42,325.4 491.74,325.4 492.05,325.4 492.36,325.4 492.68,325.4 492.99,325.4 493.31,325.4 493.62,325.4 493.93,325.4 494.25,325.4 494.56,325.4 494.87,325.4 495.19,325.4 495.5,325.4 495.81,325.4 496.13,325.4 496.44,325.4 496.76,325.4 497.07,325.4 497.38,325.4 497.7,325.4 498.01,325.4 498.32,325.4 498.64,325.4 498.95,325.4 499.26,325.4 499.58,325.4 499.89,325.4 500.2,325.4 500.52,325.4 500.83,325.4 501.15,325.4 501.46,325.4 501.77,325.4 502.09,325.4 502.4,325.4 502.4,325.4" fill="#1f8ff5" fill-opacity="0.85"/>
<polyline points="424,325.4 424.31,324.95 424.63,323.87 424.94,322.16 425.25,319.8 425.57,316.82 425.88,313.23 426.2,309.09 426.51,304.44 426.82,299.32 427.14,293.77 427.45,287.85 427.76,281.59 428.08,275.06 428.39,268.35 428.7,261.54 429.02,254.74 429.33,248.05 429.64,241.61 429.96,235.51 430.27,229.86 430.59,224.76 430.9,220.26 431.21,216.44 431.53,213.31 431.84,210.9 432.15,209.2 432.47,208.17 432.78,207.79 433.09,208.01 433.41,208.78 433.72,210.03 434.04,211.7 434.35,213.75 434.66,216.1 434.98,218.71 435.29,221.54 435.6,224.54 435.92,227.66 436.23,230.89 436.54,234.2 436.86,237.55 437.17,240.93 437.48,244.32 437.8,247.71 438.11,251.08 438.43,254.41 438.74,257.71 439.05,260.96 439.37,264.14 439.68,267.27 439.99,270.32 440.31,273.29 440.62,276.18 440.93,278.98 441.25,281.69 441.56,284.31 441.88,286.83 442.19,289.25 442.5,291.57 442.82,293.8 443.13,295.92 443.44,297.95 443.76,299.87 444.07,301.7 444.38,303.43 444.7,305.07 445.01,306.61 445.32,308.07 445.64,309.43 445.95,310.71 446.27,311.91 446.58,313.04 446.89,314.08 447.21,315.05 447.52,315.96 447.83,316.8 448.15,317.58 448.46,318.29 448.77,318.96 449.09,319.56 449.4,320.13 449.72,320.64 450.03,321.11 450.34,321.54 450.66,321.93 450.97,322.29 451.28,322.61 451.6,322.91 451.91,323.18 452.22,323.42 452.54,323.64 452.85,323.83 453.16,324.01 453.48,324.17 453.79,324.31 454.11,324.44 454.42,324.55 454.73,324.65 455.05,324.74 455.36,324.82 455.67,324.9 455.99,324.96 456.3,325.01 456.61,325.06 456.93,325.11 457.24,325.15 457.56,325.18 457.87,325.21 458.18,325.23 458.5,325.26 458.81,325.28 459.12,325.29 459.44,325.31 459.75,325.32 460.06,325.33 460.38,325.34 460.69,325.35 461,325.36 461.32,325.36 461.63,325.37 461.95,325.37 462.26,325.38 462.57,325.38 462.89,325.38 463.2,325.39 463.51,325.39 463.83,325.39 464.14,325.39 464.45,325.39 464.77,325.39 465.08,325.4 465.4,325.4 465.71,325.4 466.02,325.4 466.34,325.4 466.65,325.4 466.96,325.4 467.28,325.4 467.59,325.4 467.9,325.4 468.22,325.4 468.53,325.4 468.84,325.4 469.16,325.4 469.47,325.4 469.79,325.4 470.1,325.4 470.41,325.4 470.73,325.4 471.04,325.4 471.35,325.4 471.67,325.4 471.98,325.4 472.29,325.4 472.61,325.4 472.92,325.4 473.24,325.4 473.55,325.4 473.86,325.4 474.18,325.4 474.49,325.4 474.8,325.4 475.12,325.4 475.43,325.4 475.74,325.4 476.06,325.4 476.37,325.4 476.68,325.4 477,325.4 477.31,325.4 477.63,325.4 477.94,325.4 478.25,325.4 478.57,325.4 478.88,325.4 479.19,325.4 479.51,325.4 479.82,325.4 480.13,325.4 480.45,325.4 480.76,325.4 481.08,325.4 481.39,325.4 481.7,325.4 482.02,325.4 482.33,325.4 482.64,325.4 482.96,325.4 483.27,325.4 483.58,325.4 483.9,325.4 484.21,325.4 484.52,325.4 484.84,325.4 485.15,325.4 485.47,325.4 485.78,325.4 486.09,325.4 486.41,325.4 486.72,325.4 487.03,325.4 487.35,325.4 487.66,325.4 487.97,325.4 488.29,325.4 488.6,325.4 488.92,325.4 489.23,325.4 489.54,325.4 489.86,325.4 490.17,325.4 490.48,325.4 490.8,325.4 491.11,325.4 491.42,325.4 491.74,325.4 492.05,325.4 492.36,325.4 492.68,325.4 492.99,325.4 493.31,325.4 493.62,325.4 493.93,325.4 494.25,325.4 494.56,325.4 494.87,325.4 495.19,325.4 495.5,325.4 495.81,325.4 496.13,325.4 496.44,325.4 496.76,325.4 497.07,325.4 497.38,325.4 497.7,325.4 498.01,325.4 498.32,325.4 498.64,325.4 498.95,325.4 499.26,325.4 499.58,325.4 499.89,325.4 500.2,325.4 500.52,325.4 500.83,325.4 501.15,325.4 501.46,325.4 501.77,325.4 502.09,325.4 502.4,325.4" fill="none" stroke="#74b6f7" stroke-width="1.3" stroke-dasharray="4,2.5"/>
<polyline points="424,325.4 424.31,325.4 424.63,325.4 424.94,325.4 425.25,325.4 425.57,325.4 425.88,325.4 426.2,325.4 426.51,325.4 426.82,325.4 427.14,325.4 427.45,325.4 427.76,325.4 428.08,325.4 428.39,325.4 428.7,325.4 429.02,325.39 429.33,325.39 429.64,325.39 429.96,325.39 430.27,325.39 430.59,325.38 430.9,325.38 431.21,325.38 431.53,325.37 431.84,325.37 432.15,325.36 432.47,325.35 432.78,325.35 433.09,325.34 433.41,325.32 433.72,325.31 434.04,325.29 434.35,325.27 434.66,325.25 434.98,325.23 435.29,325.2 435.6,325.16 435.92,325.13 436.23,325.08 436.54,325.03 436.86,324.97 437.17,324.91 437.48,324.83 437.8,324.75 438.11,324.65 438.43,324.54 438.74,324.42 439.05,324.29 439.37,324.14 439.68,323.97 439.99,323.78 440.31,323.57 440.62,323.34 440.93,323.08 441.25,322.8 441.56,322.49 441.88,322.15 442.19,321.77 442.5,321.37 442.82,320.92 443.13,320.44 443.44,319.92 443.76,319.35 444.07,318.75 444.38,318.09 444.7,317.39 445.01,316.64 445.32,315.84 445.64,314.98 445.95,314.08 446.27,313.12 446.58,312.1 446.89,311.03 447.21,309.91 447.52,308.73 447.83,307.49 448.15,306.21 448.46,304.87 448.77,303.48 449.09,302.04 449.4,300.56 449.72,299.04 450.03,297.48 450.34,295.88 450.66,294.24 450.97,292.58 451.28,290.9 451.6,289.2 451.91,287.48 452.22,285.76 452.54,284.03 452.85,282.31 453.16,280.6 453.48,278.9 453.79,277.22 454.11,275.57 454.42,273.96 454.73,272.38 455.05,270.85 455.36,269.37 455.67,267.94 455.99,266.58 456.3,265.29 456.61,264.06 456.93,262.91 457.24,261.85 457.56,260.86 457.87,259.97 458.18,259.16 458.5,258.44 458.81,257.82 459.12,257.29 459.44,256.86 459.75,256.53 460.06,256.29 460.38,256.15 460.69,256.1 461,256.15 461.32,256.29 461.63,256.52 461.95,256.84 462.26,257.25 462.57,257.73 462.89,258.3 463.2,258.94 463.51,259.66 463.83,260.44 464.14,261.29 464.45,262.2 464.77,263.16 465.08,264.18 465.4,265.25 465.71,266.36 466.02,267.5 466.34,268.69 466.65,269.9 466.96,271.15 467.28,272.41 467.59,273.7 467.9,275 468.22,276.31 468.53,277.64 468.84,278.96 469.16,280.3 469.47,281.63 469.79,282.95 470.1,284.27 470.41,285.59 470.73,286.89 471.04,288.18 471.35,289.45 471.67,290.71 471.98,291.95 472.29,293.17 472.61,294.37 472.92,295.55 473.24,296.7 473.55,297.83 473.86,298.94 474.18,300.02 474.49,301.07 474.8,302.09 475.12,303.09 475.43,304.06 475.74,305 476.06,305.92 476.37,306.8 476.68,307.66 477,308.49 477.31,309.29 477.63,310.07 477.94,310.81 478.25,311.53 478.57,312.23 478.88,312.89 479.19,313.54 479.51,314.15 479.82,314.74 480.13,315.31 480.45,315.85 480.76,316.37 481.08,316.87 481.39,317.35 481.7,317.8 482.02,318.23 482.33,318.65 482.64,319.04 482.96,319.41 483.27,319.77 483.58,320.11 483.9,320.43 484.21,320.73 484.52,321.02 484.84,321.3 485.15,321.56 485.47,321.8 485.78,322.03 486.09,322.25 486.41,322.46 486.72,322.66 487.03,322.84 487.35,323.01 487.66,323.18 487.97,323.33 488.29,323.47 488.6,323.61 488.92,323.73 489.23,323.85 489.54,323.96 489.86,324.07 490.17,324.17 490.48,324.26 490.8,324.34 491.11,324.42 491.42,324.49 491.74,324.56 492.05,324.63 492.36,324.69 492.68,324.74 492.99,324.79 493.31,324.84 493.62,324.89 493.93,324.93 494.25,324.97 494.56,325 494.87,325.03 495.19,325.07 495.5,325.09 495.81,325.12 496.13,325.14 496.44,325.16 496.76,325.18 497.07,325.2 497.38,325.22 497.7,325.24 498.01,325.25 498.32,325.26 498.64,325.28 498.95,325.29 499.26,325.3 499.58,325.31 499.89,325.32 500.2,325.32 500.52,325.33 500.83,325.34 501.15,325.34 501.46,325.35 501.77,325.35 502.09,325.36 502.4,325.36" fill="none" stroke="#1f8ff5" stroke-width="1.3"/>
<line x1="446.58" y1="200.5" x2="446.58" y2="325.4" stroke="#222" stroke-width="0.8" stroke-dasharray="1,1.2"/>
<line x1="538.5" y1="199.2" x2="538.5" y2="327.8" stroke="#9c9c9c" stroke-width="0.85"/>
<line x1="538.5" y1="327.8" x2="696.7" y2="327.8" stroke="#9c9c9c" stroke-width="0.85"/>
<line x1="536.3" y1="324.6" x2="538.5" y2="324.6" stroke="#808080" stroke-width="0.8"/>
<text x="535.5" y="328.2" font-size="10.2" fill="#262626" color="#262626" stroke-width="0.22" font-weight="normal" text-anchor="end">0</text>
<line x1="536.3" y1="284.1" x2="538.5" y2="284.1" stroke="#808080" stroke-width="0.8"/>
<text x="535.5" y="287.7" font-size="10.2" fill="#262626" color="#262626" stroke-width="0.22" font-weight="normal" text-anchor="end">5</text>
<line x1="536.3" y1="243.6" x2="538.5" y2="243.6" stroke="#808080" stroke-width="0.8"/>
<text x="535.5" y="247.2" font-size="10.2" fill="#262626" color="#262626" stroke-width="0.22" font-weight="normal" text-anchor="end">10</text>
<line x1="536.3" y1="203.1" x2="538.5" y2="203.1" stroke="#808080" stroke-width="0.8"/>
<text x="535.5" y="206.7" font-size="10.2" fill="#262626" color="#262626" stroke-width="0.22" font-weight="normal" text-anchor="end">15</text>
<line x1="579.4" y1="327.8" x2="579.4" y2="330" stroke="#808080" stroke-width="0.8"/>
<line x1="656" y1="327.8" x2="656" y2="330" stroke="#808080" stroke-width="0.8"/>
<text x="579.2" y="339" font-size="10.4" fill="#262626" color="#262626" stroke-width="0.22" font-weight="normal" text-anchor="middle" textLength="29" lengthAdjust="spacingAndGlyphs">Failed</text>
<text x="578.4" y="349.3" font-size="10.4" fill="#262626" color="#262626" stroke-width="0.22" font-weight="normal" text-anchor="middle" textLength="50" lengthAdjust="spacingAndGlyphs">Detection</text>
<text x="656" y="339" font-size="10.4" fill="#262626" color="#262626" stroke-width="0.22" font-weight="normal" text-anchor="middle" textLength="26" lengthAdjust="spacingAndGlyphs">False</text>
<text x="655.6" y="349.3" font-size="10.4" fill="#262626" color="#262626" stroke-width="0.22" font-weight="normal" text-anchor="middle" textLength="50" lengthAdjust="spacingAndGlyphs">Detection</text>
<text x="521.9" y="262.8" font-size="10.2" fill="#262626" color="#262626" stroke-width="0.22" font-weight="normal" text-anchor="middle" textLength="73" lengthAdjust="spacingAndGlyphs" transform="rotate(-90 521.9 262.8)">Probability (%)</text>
<line x1="560.5" y1="302.6" x2="560.5" y2="309.7" stroke="#808080" stroke-width="1.3"/>
<line x1="560.5" y1="315.6" x2="560.5" y2="321.7" stroke="#808080" stroke-width="1.3"/>
<line x1="555.3" y1="302.6" x2="565.7" y2="302.6" stroke="#808080" stroke-width="1.3"/>
<line x1="555.3" y1="321.7" x2="565.7" y2="321.7" stroke="#808080" stroke-width="1.3"/>
<rect x="551.3" y="309.7" width="18.4" height="5.9" fill="none" stroke="#808080" stroke-width="1.3"/>
<line x1="551.3" y1="313" x2="569.7" y2="313" stroke="#808080" stroke-width="1.3"/>
<circle cx="560.5" cy="300" r="1.3" fill="none" stroke="#808080" stroke-width="0.7"/>
<line x1="579.4" y1="255.2" x2="579.4" y2="271.5" stroke="#9b6bd0" stroke-width="1.3"/>
<line x1="579.4" y1="284.8" x2="579.4" y2="297.7" stroke="#9b6bd0" stroke-width="1.3"/>
<line x1="574.2" y1="255.2" x2="584.6" y2="255.2" stroke="#9b6bd0" stroke-width="1.3"/>
<line x1="574.2" y1="297.7" x2="584.6" y2="297.7" stroke="#9b6bd0" stroke-width="1.3"/>
<rect x="570.2" y="271.5" width="18.4" height="13.3" fill="none" stroke="#9b6bd0" stroke-width="1.3"/>
<line x1="570.2" y1="277.3" x2="588.6" y2="277.3" stroke="#9b6bd0" stroke-width="1.3"/>
<circle cx="579.4" cy="304.9" r="1.3" fill="none" stroke="#9b6bd0" stroke-width="0.7"/>
<line x1="598.8" y1="284.4" x2="598.8" y2="295.8" stroke="#1f8ff5" stroke-width="1.3"/>
<line x1="598.8" y1="305.5" x2="598.8" y2="316.9" stroke="#1f8ff5" stroke-width="1.3"/>
<line x1="593.6" y1="284.4" x2="604" y2="284.4" stroke="#1f8ff5" stroke-width="1.3"/>
<line x1="593.6" y1="316.9" x2="604" y2="316.9" stroke="#1f8ff5" stroke-width="1.3"/>
<rect x="589.6" y="295.8" width="18.4" height="9.7" fill="none" stroke="#1f8ff5" stroke-width="1.3"/>
<line x1="589.6" y1="300" x2="608" y2="300" stroke="#1f8ff5" stroke-width="1.3"/>
<circle cx="598.8" cy="279" r="1.3" fill="none" stroke="#1f8ff5" stroke-width="0.7"/>
<line x1="579.4" y1="247.05" x2="579.4" y2="253.75" stroke="#111" stroke-width="1.1"/>
<line x1="576.5" y1="248.72" x2="582.3" y2="252.08" stroke="#111" stroke-width="1.1"/>
<line x1="582.3" y1="248.72" x2="576.5" y2="252.08" stroke="#111" stroke-width="1.1"/>
<line x1="598.8" y1="258.65" x2="598.8" y2="265.35" stroke="#111" stroke-width="1.1"/>
<line x1="595.9" y1="260.32" x2="601.7" y2="263.68" stroke="#111" stroke-width="1.1"/>
<line x1="601.7" y1="260.32" x2="595.9" y2="263.68" stroke="#111" stroke-width="1.1"/>
<line x1="598.8" y1="270.2" x2="598.8" y2="276.6" stroke="#9b6bd0" stroke-width="1.15"/>
<line x1="596.03" y1="271.8" x2="601.57" y2="275" stroke="#9b6bd0" stroke-width="1.15"/>
<line x1="601.57" y1="271.8" x2="596.03" y2="275" stroke="#9b6bd0" stroke-width="1.15"/>
<line x1="637.2" y1="298.1" x2="637.2" y2="308.7" stroke="#808080" stroke-width="1.3"/>
<line x1="637.2" y1="315.8" x2="637.2" y2="322.2" stroke="#808080" stroke-width="1.3"/>
<line x1="632" y1="298.1" x2="642.4" y2="298.1" stroke="#808080" stroke-width="1.3"/>
<line x1="632" y1="322.2" x2="642.4" y2="322.2" stroke="#808080" stroke-width="1.3"/>
<rect x="628" y="308.7" width="18.4" height="7.1" fill="none" stroke="#808080" stroke-width="1.3"/>
<line x1="628" y1="312" x2="646.4" y2="312" stroke="#808080" stroke-width="1.3"/>
<circle cx="637.2" cy="289.2" r="1.3" fill="none" stroke="#808080" stroke-width="0.7"/>
<circle cx="637.2" cy="296.3" r="1.3" fill="none" stroke="#808080" stroke-width="0.7"/>
<line x1="656" y1="205.1" x2="656" y2="240" stroke="#9b6bd0" stroke-width="1.3"/>
<line x1="656" y1="269.7" x2="656" y2="311.3" stroke="#9b6bd0" stroke-width="1.3"/>
<line x1="650.8" y1="205.1" x2="661.2" y2="205.1" stroke="#9b6bd0" stroke-width="1.3"/>
<line x1="650.8" y1="311.3" x2="661.2" y2="311.3" stroke="#9b6bd0" stroke-width="1.3"/>
<rect x="646.8" y="240" width="18.4" height="29.7" fill="none" stroke="#9b6bd0" stroke-width="1.3"/>
<line x1="646.8" y1="256.4" x2="665.2" y2="256.4" stroke="#9b6bd0" stroke-width="1.3"/>
<line x1="675.7" y1="282.9" x2="675.7" y2="297.6" stroke="#1f8ff5" stroke-width="1.3"/>
<line x1="675.7" y1="308.7" x2="675.7" y2="318.9" stroke="#1f8ff5" stroke-width="1.3"/>
<line x1="670.5" y1="282.9" x2="680.9" y2="282.9" stroke="#1f8ff5" stroke-width="1.3"/>
<line x1="670.5" y1="318.9" x2="680.9" y2="318.9" stroke="#1f8ff5" stroke-width="1.3"/>
<rect x="666.5" y="297.6" width="18.4" height="11.1" fill="none" stroke="#1f8ff5" stroke-width="1.3"/>
<line x1="666.5" y1="304" x2="684.9" y2="304" stroke="#1f8ff5" stroke-width="1.3"/>
<circle cx="675.7" cy="276.6" r="1.3" fill="none" stroke="#1f8ff5" stroke-width="0.7"/>
<line x1="656" y1="196.75" x2="656" y2="203.45" stroke="#111" stroke-width="1.1"/>
<line x1="653.1" y1="198.42" x2="658.9" y2="201.78" stroke="#111" stroke-width="1.1"/>
<line x1="658.9" y1="198.42" x2="653.1" y2="201.78" stroke="#111" stroke-width="1.1"/>
<line x1="675.7" y1="257.25" x2="675.7" y2="263.95" stroke="#111" stroke-width="1.1"/>
<line x1="672.8" y1="258.93" x2="678.6" y2="262.28" stroke="#111" stroke-width="1.1"/>
<line x1="678.6" y1="258.93" x2="672.8" y2="262.28" stroke="#111" stroke-width="1.1"/>
<line x1="675.7" y1="268.3" x2="675.7" y2="274.7" stroke="#9b6bd0" stroke-width="1.15"/>
<line x1="672.93" y1="269.9" x2="678.47" y2="273.1" stroke="#9b6bd0" stroke-width="1.15"/>
<line x1="678.47" y1="269.9" x2="672.93" y2="273.1" stroke="#9b6bd0" stroke-width="1.15"/>
<line x1="736" y1="200" x2="736" y2="328.3" stroke="#9c9c9c" stroke-width="0.85"/>
<line x1="736" y1="328.3" x2="798.2" y2="328.3" stroke="#9c9c9c" stroke-width="0.85"/>
<line x1="733.8" y1="327.4" x2="736" y2="327.4" stroke="#808080" stroke-width="0.8"/>
<text x="732.9" y="330.3" font-size="10.2" fill="#262626" color="#262626" stroke-width="0.22" font-weight="normal" text-anchor="end" textLength="14.2" lengthAdjust="spacingAndGlyphs">0.4</text>
<line x1="733.8" y1="296.1" x2="736" y2="296.1" stroke="#808080" stroke-width="0.8"/>
<text x="732.9" y="299" font-size="10.2" fill="#262626" color="#262626" stroke-width="0.22" font-weight="normal" text-anchor="end" textLength="14.2" lengthAdjust="spacingAndGlyphs">0.6</text>
<line x1="733.8" y1="264.8" x2="736" y2="264.8" stroke="#808080" stroke-width="0.8"/>
<text x="732.9" y="267.7" font-size="10.2" fill="#262626" color="#262626" stroke-width="0.22" font-weight="normal" text-anchor="end" textLength="14.2" lengthAdjust="spacingAndGlyphs">0.8</text>
<line x1="733.8" y1="233.5" x2="736" y2="233.5" stroke="#808080" stroke-width="0.8"/>
<text x="732.9" y="236.4" font-size="10.2" fill="#262626" color="#262626" stroke-width="0.22" font-weight="normal" text-anchor="end" textLength="14.2" lengthAdjust="spacingAndGlyphs">1.0</text>
<line x1="733.8" y1="202.2" x2="736" y2="202.2" stroke="#808080" stroke-width="0.8"/>
<text x="732.9" y="205.1" font-size="10.2" fill="#262626" color="#262626" stroke-width="0.22" font-weight="normal" text-anchor="end" textLength="14.2" lengthAdjust="spacingAndGlyphs">1.2</text>
<line x1="747.4" y1="328.3" x2="747.4" y2="330.5" stroke="#808080" stroke-width="0.8"/>
<line x1="766.5" y1="328.3" x2="766.5" y2="330.5" stroke="#808080" stroke-width="0.8"/>
<line x1="785.5" y1="328.3" x2="785.5" y2="330.5" stroke="#808080" stroke-width="0.8"/>
<text x="736.8" y="197.9" font-size="10.2" fill="#262626" color="#262626" stroke-width="0.22" font-weight="normal" text-anchor="start" textLength="24.6" lengthAdjust="spacingAndGlyphs">1e−2</text>
<text x="714.6" y="264" font-size="10.2" fill="#262626" color="#262626" stroke-width="0.22" font-weight="normal" text-anchor="middle" textLength="81" lengthAdjust="spacingAndGlyphs" transform="rotate(-90 714.6 264)">Spike Correlation</text>
<line x1="747.4" y1="297.3" x2="747.4" y2="305.6" stroke="#808080" stroke-width="1.3"/>
<line x1="747.4" y1="312.7" x2="747.4" y2="316.5" stroke="#808080" stroke-width="1.3"/>
<line x1="743.8" y1="297.3" x2="751" y2="297.3" stroke="#808080" stroke-width="1.3"/>
<line x1="743.8" y1="316.5" x2="751" y2="316.5" stroke="#808080" stroke-width="1.3"/>
<rect x="741.4" y="305.6" width="12" height="7.1" fill="none" stroke="#808080" stroke-width="1.3"/>
<line x1="741.4" y1="309.1" x2="753.4" y2="309.1" stroke="#808080" stroke-width="1.3"/>
<circle cx="747.4" cy="294.3" r="1.3" fill="none" stroke="#808080" stroke-width="0.7"/>
<circle cx="747.4" cy="322.4" r="1.3" fill="none" stroke="#808080" stroke-width="0.7"/>
<line x1="766.5" y1="205.5" x2="766.5" y2="222" stroke="#9b6bd0" stroke-width="1.3"/>
<line x1="766.5" y1="235.2" x2="766.5" y2="245.4" stroke="#9b6bd0" stroke-width="1.3"/>
<line x1="762.9" y1="205.5" x2="770.1" y2="205.5" stroke="#9b6bd0" stroke-width="1.3"/>
<line x1="762.9" y1="245.4" x2="770.1" y2="245.4" stroke="#9b6bd0" stroke-width="1.3"/>
<rect x="760.5" y="222" width="12" height="13.2" fill="none" stroke="#9b6bd0" stroke-width="1.3"/>
<line x1="760.5" y1="230.9" x2="772.5" y2="230.9" stroke="#9b6bd0" stroke-width="1.3"/>
<line x1="785.5" y1="300.8" x2="785.5" y2="307" stroke="#1f8ff5" stroke-width="1.3"/>
<line x1="785.5" y1="313" x2="785.5" y2="318.6" stroke="#1f8ff5" stroke-width="1.3"/>
<line x1="781.9" y1="300.8" x2="789.1" y2="300.8" stroke="#1f8ff5" stroke-width="1.3"/>
<line x1="781.9" y1="318.6" x2="789.1" y2="318.6" stroke="#1f8ff5" stroke-width="1.3"/>
<rect x="779.5" y="307" width="12" height="6" fill="none" stroke="#1f8ff5" stroke-width="1.3"/>
<line x1="779.5" y1="310" x2="791.5" y2="310" stroke="#1f8ff5" stroke-width="1.3"/>
<circle cx="785.5" cy="294.3" r="1.3" fill="none" stroke="#1f8ff5" stroke-width="0.7"/>
<circle cx="785.5" cy="298.8" r="1.3" fill="none" stroke="#1f8ff5" stroke-width="0.7"/>
<line x1="766.5" y1="195.85" x2="766.5" y2="202.55" stroke="#111" stroke-width="1.1"/>
<line x1="763.6" y1="197.52" x2="769.4" y2="200.88" stroke="#111" stroke-width="1.1"/>
<line x1="769.4" y1="197.52" x2="763.6" y2="200.88" stroke="#111" stroke-width="1.1"/>
<line x1="785.5" y1="284.6" x2="785.5" y2="291" stroke="#9b6bd0" stroke-width="1.15"/>
<line x1="782.73" y1="286.2" x2="788.27" y2="289.4" stroke="#9b6bd0" stroke-width="1.15"/>
<line x1="788.27" y1="286.2" x2="782.73" y2="289.4" stroke="#9b6bd0" stroke-width="1.15"/></svg>
</body></html>
